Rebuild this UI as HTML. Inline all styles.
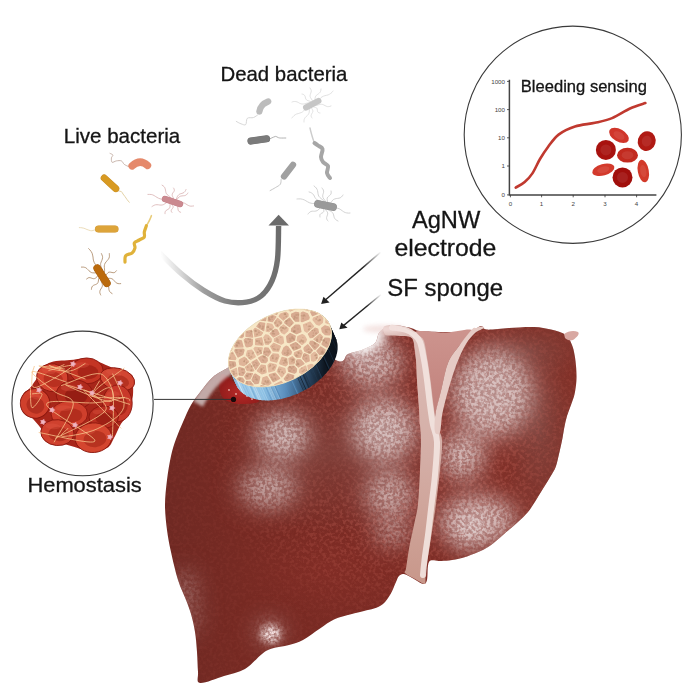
<!DOCTYPE html>
<html><head><meta charset="utf-8"><style>
html,body{margin:0;padding:0;background:#fff;width:700px;height:700px;overflow:hidden}
svg{display:block}
text{font-family:"Liberation Sans",sans-serif}
</style></head><body>
<svg width="700" height="700" viewBox="0 0 700 700">
<defs>
<linearGradient id="livg" x1="0" y1="0" x2="1" y2="0">
 <stop offset="0" stop-color="#6f2923"/>
 <stop offset="0.2" stop-color="#772a23"/>
 <stop offset="0.6" stop-color="#7c2b24"/>
 <stop offset="1" stop-color="#823027"/>
</linearGradient>
<radialGradient id="hl" cx="0.5" cy="0.5" r="0.5">
 <stop offset="0" stop-color="#ead6d6" stop-opacity="0.85"/>
 <stop offset="0.6" stop-color="#d8b4b2" stop-opacity="0.55"/>
 <stop offset="1" stop-color="#d8b4b2" stop-opacity="0"/>
</radialGradient>
<radialGradient id="gry" cx="0.5" cy="0.5" r="0.5">
 <stop offset="0" stop-color="#80443e" stop-opacity="0.9"/>
 <stop offset="1" stop-color="#80443e" stop-opacity="0"/>
</radialGradient>
<radialGradient id="dk" cx="0.5" cy="0.5" r="0.5">
 <stop offset="0" stop-color="#93322a" stop-opacity="0.9"/>
 <stop offset="1" stop-color="#93322a" stop-opacity="0"/>
</radialGradient>
<linearGradient id="gbg" x1="0" y1="0" x2="0" y2="1">
 <stop offset="0" stop-color="#cd948e"/>
 <stop offset="1" stop-color="#bf7f79"/>
</linearGradient>
<linearGradient id="edgeg" gradientUnits="userSpaceOnUse" x1="165" y1="0" x2="215" y2="0">
 <stop offset="0" stop-color="#000"/>
 <stop offset="1" stop-color="#fff"/>
</linearGradient>
<radialGradient id="spm" gradientUnits="userSpaceOnUse" cx="400" cy="430" r="200">
 <stop offset="0" stop-color="#fff"/>
 <stop offset="0.55" stop-color="#ccc"/>
 <stop offset="1" stop-color="#333"/>
</radialGradient>
<mask id="edgemask" maskUnits="userSpaceOnUse" x="0" y="0" width="700" height="700"><rect width="700" height="700" fill="url(#spm)"/></mask>
<filter id="blur4" filterUnits="userSpaceOnUse" x="0" y="0" width="700" height="700"><feGaussianBlur stdDeviation="5"/></filter>
<filter id="blur2" filterUnits="userSpaceOnUse" x="0" y="0" width="700" height="700"><feGaussianBlur stdDeviation="2.5"/></filter>
<filter id="speck3" filterUnits="userSpaceOnUse" x="0" y="0" width="700" height="700">
 <feGaussianBlur in="SourceGraphic" stdDeviation="3" result="sb"/>
 <feTurbulence type="fractalNoise" baseFrequency="0.35" numOctaves="2" seed="9" result="n"/>
 <feColorMatrix in="n" type="matrix" values="0 0 0 0 1  0 0 0 0 1  0 0 0 0 1  2.6 0 0 0 -0.7" result="na"/>
 <feComposite in="sb" in2="na" operator="arithmetic" k1="1" k2="0.2" k3="0" k4="0"/>
</filter>
<filter id="blur05" filterUnits="userSpaceOnUse" x="0" y="0" width="700" height="700"><feGaussianBlur stdDeviation="0.6"/></filter>
<filter id="blur1" x="-50%" y="-50%" width="200%" height="200%"><feGaussianBlur stdDeviation="1.5"/></filter>
<clipPath id="livclip"><path d="M229.0,367.0 C221.2,371.8 217.7,373.0 213.0,377.0 C208.3,381.0 204.7,386.3 201.0,391.0 C197.3,395.7 194.0,399.8 191.0,405.0 C188.0,410.2 185.5,416.3 183.0,422.0 C180.5,427.7 178.0,433.3 176.0,439.0 C174.0,444.7 172.5,449.2 171.0,456.0 C169.5,462.8 168.0,471.8 167.0,480.0 C166.0,488.2 165.0,496.7 165.0,505.0 C165.0,513.3 166.0,522.2 167.0,530.0 C168.0,537.8 169.2,543.7 171.0,552.0 C172.8,560.3 175.5,572.0 178.0,580.0 C180.5,588.0 183.8,594.3 186.0,600.0 C188.2,605.7 189.5,608.7 191.0,614.0 C192.5,619.3 194.0,625.7 195.0,632.0 C196.0,638.3 196.5,645.3 197.0,652.0 C197.5,658.7 197.5,666.8 198.0,672.0 C198.5,677.2 195.7,682.3 200.0,683.0 C204.3,683.7 216.5,678.3 224.0,676.0 C231.5,673.7 238.7,672.7 245.0,669.0 C251.3,665.3 257.5,657.4 262.0,654.0 C266.5,650.6 267.5,650.1 272.0,648.6 C276.5,647.1 283.8,646.4 289.0,645.0 C294.2,643.6 297.8,642.8 303.0,640.0 C308.2,637.2 314.8,631.9 320.0,628.5 C325.2,625.1 328.8,621.9 334.0,619.5 C339.2,617.1 346.0,615.7 351.0,614.3 C356.0,612.9 360.2,612.0 364.0,611.0 C367.8,610.0 370.8,609.7 374.0,608.5 C377.2,607.3 380.2,606.4 383.0,604.0 C385.8,601.6 388.4,597.7 390.6,594.0 C392.8,590.3 394.6,585.0 396.0,582.0 C397.4,579.0 397.7,577.3 399.0,576.0 C400.3,574.7 401.5,573.5 404.0,574.0 C406.5,574.5 410.8,577.3 414.0,579.0 C417.2,580.7 420.8,583.8 423.0,584.0 C425.2,584.2 426.0,583.7 427.0,580.0 C428.0,576.3 427.0,565.2 429.0,562.0 C431.0,558.8 435.7,561.2 439.0,561.0 C442.3,560.8 445.2,561.0 449.0,560.5 C452.8,560.0 458.2,559.0 462.0,558.0 C465.8,557.0 468.4,555.9 472.0,554.5 C475.6,553.1 479.8,551.7 483.4,549.8 C487.0,547.9 490.0,545.9 493.7,543.0 C497.4,540.1 501.7,536.1 505.7,532.6 C509.7,529.1 514.0,525.7 517.7,522.3 C521.4,518.9 525.1,515.4 528.0,512.0 C530.9,508.6 532.4,505.7 535.0,501.7 C537.6,497.7 540.6,492.6 543.4,488.0 C546.2,483.4 549.9,477.7 552.0,474.0 C554.1,470.3 554.7,469.8 556.0,466.0 C557.3,462.2 558.6,455.7 559.7,451.0 C560.8,446.3 561.7,442.0 562.5,438.0 C563.3,434.0 563.6,430.7 564.4,427.0 C565.1,423.3 565.9,419.7 567.0,416.0 C568.1,412.3 569.7,408.7 571.0,405.0 C572.3,401.3 573.7,398.0 574.6,394.0 C575.5,390.0 576.1,385.3 576.4,381.0 C576.7,376.7 576.5,372.3 576.2,368.0 C575.9,363.7 575.3,358.8 574.6,355.0 C573.9,351.2 573.4,348.3 572.0,345.0 C570.6,341.7 569.5,337.6 566.0,335.0 C562.5,332.4 556.3,330.9 551.0,329.6 C545.7,328.3 541.0,327.3 534.0,327.0 C527.0,326.7 516.8,327.6 509.0,328.0 C501.2,328.4 491.7,329.9 487.0,329.6 C482.3,329.3 483.8,325.8 481.0,326.0 C478.2,326.2 476.0,330.0 470.0,331.0 C464.0,332.0 453.3,332.0 445.0,332.0 C436.7,332.0 425.7,331.7 420.0,331.0 C414.3,330.3 415.2,329.0 411.0,328.0 C406.8,327.0 399.2,325.2 395.0,325.0 C390.8,324.8 388.7,325.7 386.0,327.0 C383.3,328.3 380.8,330.3 379.0,333.0 C377.2,335.7 377.7,340.2 375.0,343.0 C372.3,345.8 367.5,347.7 363.0,349.5 C358.5,351.3 352.2,352.1 348.0,354.0 C343.8,355.9 346.0,363.7 338.0,361.0 C330.0,358.3 313.0,340.2 300.0,338.0 C287.0,335.8 271.8,343.2 260.0,348.0 C248.2,352.8 236.8,362.2 229.0,367.0Z"/></clipPath>
<filter id="speck1" filterUnits="userSpaceOnUse" x="0" y="0" width="700" height="700">
 <feTurbulence type="fractalNoise" baseFrequency="0.3" numOctaves="2" seed="7" result="n"/>
 <feColorMatrix in="n" type="matrix" values="0 0 0 0 1  0 0 0 0 1  0 0 0 0 1  4.5 0 0 0 -2.0" result="na0"/>
 <feGaussianBlur in="na0" stdDeviation="0.45" result="na"/>
 <feComposite in="SourceGraphic" in2="na" operator="in"/>
</filter>
<filter id="soft" filterUnits="userSpaceOnUse" x="0" y="0" width="700" height="700">
 <feGaussianBlur stdDeviation="14"/>
</filter>
<filter id="speck2" filterUnits="userSpaceOnUse" x="0" y="0" width="700" height="700">
 <feGaussianBlur in="SourceGraphic" stdDeviation="9" result="sb"/>
 <feTurbulence type="fractalNoise" baseFrequency="0.32" numOctaves="2" seed="3" result="n"/>
 <feColorMatrix in="n" type="matrix" values="0 0 0 0 1  0 0 0 0 1  0 0 0 0 1  4.0 0 0 0 -1.55" result="na0"/>
 <feGaussianBlur in="na0" stdDeviation="0.45" result="na"/>
 <feComposite in="sb" in2="na" operator="arithmetic" k1="1" k2="0.15" k3="0" k4="0"/>
</filter>
<linearGradient id="arrowg" gradientUnits="userSpaceOnUse" x1="160" y1="252" x2="279" y2="225">
 <stop offset="0" stop-color="#ffffff"/>
 <stop offset="0.12" stop-color="#dadada"/>
 <stop offset="0.28" stop-color="#9e9e9e"/>
 <stop offset="0.5" stop-color="#7c7c7c"/>
 <stop offset="1" stop-color="#6b6b6b"/>
</linearGradient>
<linearGradient id="blk1" gradientUnits="userSpaceOnUse" x1="381" y1="252" x2="321" y2="304">
 <stop offset="0" stop-color="#222" stop-opacity="0"/>
 <stop offset="0.3" stop-color="#222" stop-opacity="1"/>
</linearGradient>
<linearGradient id="blk2" gradientUnits="userSpaceOnUse" x1="381" y1="294" x2="339" y2="329">
 <stop offset="0" stop-color="#222" stop-opacity="0"/>
 <stop offset="0.35" stop-color="#222" stop-opacity="1"/>
</linearGradient>
<linearGradient id="side" x1="0" y1="0" x2="1" y2="0">
 <stop offset="0" stop-color="#b9dcf2"/>
 <stop offset="0.35" stop-color="#8cc0e4"/>
 <stop offset="0.5" stop-color="#5b8fbe"/>
 <stop offset="0.65" stop-color="#2c4a68"/>
 <stop offset="0.78" stop-color="#0f1823"/>
 <stop offset="1" stop-color="#06090d"/>
</linearGradient>
<pattern id="foam" patternUnits="userSpaceOnUse" width="11" height="10" patternTransform="rotate(-26)">
 <rect width="11" height="10" fill="#f4dfb4"/>
 <ellipse cx="5.5" cy="5" rx="4.3" ry="3.8" fill="#d9a78a"/>
 <ellipse cx="5.5" cy="5" rx="2.6" ry="2.2" fill="#e0b394"/>
</pattern>
</defs>
<path d="M229.0,367.0 C221.2,371.8 217.7,373.0 213.0,377.0 C208.3,381.0 204.7,386.3 201.0,391.0 C197.3,395.7 194.0,399.8 191.0,405.0 C188.0,410.2 185.5,416.3 183.0,422.0 C180.5,427.7 178.0,433.3 176.0,439.0 C174.0,444.7 172.5,449.2 171.0,456.0 C169.5,462.8 168.0,471.8 167.0,480.0 C166.0,488.2 165.0,496.7 165.0,505.0 C165.0,513.3 166.0,522.2 167.0,530.0 C168.0,537.8 169.2,543.7 171.0,552.0 C172.8,560.3 175.5,572.0 178.0,580.0 C180.5,588.0 183.8,594.3 186.0,600.0 C188.2,605.7 189.5,608.7 191.0,614.0 C192.5,619.3 194.0,625.7 195.0,632.0 C196.0,638.3 196.5,645.3 197.0,652.0 C197.5,658.7 197.5,666.8 198.0,672.0 C198.5,677.2 195.7,682.3 200.0,683.0 C204.3,683.7 216.5,678.3 224.0,676.0 C231.5,673.7 238.7,672.7 245.0,669.0 C251.3,665.3 257.5,657.4 262.0,654.0 C266.5,650.6 267.5,650.1 272.0,648.6 C276.5,647.1 283.8,646.4 289.0,645.0 C294.2,643.6 297.8,642.8 303.0,640.0 C308.2,637.2 314.8,631.9 320.0,628.5 C325.2,625.1 328.8,621.9 334.0,619.5 C339.2,617.1 346.0,615.7 351.0,614.3 C356.0,612.9 360.2,612.0 364.0,611.0 C367.8,610.0 370.8,609.7 374.0,608.5 C377.2,607.3 380.2,606.4 383.0,604.0 C385.8,601.6 388.4,597.7 390.6,594.0 C392.8,590.3 394.6,585.0 396.0,582.0 C397.4,579.0 397.7,577.3 399.0,576.0 C400.3,574.7 401.5,573.5 404.0,574.0 C406.5,574.5 410.8,577.3 414.0,579.0 C417.2,580.7 420.8,583.8 423.0,584.0 C425.2,584.2 426.0,583.7 427.0,580.0 C428.0,576.3 427.0,565.2 429.0,562.0 C431.0,558.8 435.7,561.2 439.0,561.0 C442.3,560.8 445.2,561.0 449.0,560.5 C452.8,560.0 458.2,559.0 462.0,558.0 C465.8,557.0 468.4,555.9 472.0,554.5 C475.6,553.1 479.8,551.7 483.4,549.8 C487.0,547.9 490.0,545.9 493.7,543.0 C497.4,540.1 501.7,536.1 505.7,532.6 C509.7,529.1 514.0,525.7 517.7,522.3 C521.4,518.9 525.1,515.4 528.0,512.0 C530.9,508.6 532.4,505.7 535.0,501.7 C537.6,497.7 540.6,492.6 543.4,488.0 C546.2,483.4 549.9,477.7 552.0,474.0 C554.1,470.3 554.7,469.8 556.0,466.0 C557.3,462.2 558.6,455.7 559.7,451.0 C560.8,446.3 561.7,442.0 562.5,438.0 C563.3,434.0 563.6,430.7 564.4,427.0 C565.1,423.3 565.9,419.7 567.0,416.0 C568.1,412.3 569.7,408.7 571.0,405.0 C572.3,401.3 573.7,398.0 574.6,394.0 C575.5,390.0 576.1,385.3 576.4,381.0 C576.7,376.7 576.5,372.3 576.2,368.0 C575.9,363.7 575.3,358.8 574.6,355.0 C573.9,351.2 573.4,348.3 572.0,345.0 C570.6,341.7 569.5,337.6 566.0,335.0 C562.5,332.4 556.3,330.9 551.0,329.6 C545.7,328.3 541.0,327.3 534.0,327.0 C527.0,326.7 516.8,327.6 509.0,328.0 C501.2,328.4 491.7,329.9 487.0,329.6 C482.3,329.3 483.8,325.8 481.0,326.0 C478.2,326.2 476.0,330.0 470.0,331.0 C464.0,332.0 453.3,332.0 445.0,332.0 C436.7,332.0 425.7,331.7 420.0,331.0 C414.3,330.3 415.2,329.0 411.0,328.0 C406.8,327.0 399.2,325.2 395.0,325.0 C390.8,324.8 388.7,325.7 386.0,327.0 C383.3,328.3 380.8,330.3 379.0,333.0 C377.2,335.7 377.7,340.2 375.0,343.0 C372.3,345.8 367.5,347.7 363.0,349.5 C358.5,351.3 352.2,352.1 348.0,354.0 C343.8,355.9 346.0,363.7 338.0,361.0 C330.0,358.3 313.0,340.2 300.0,338.0 C287.0,335.8 271.8,343.2 260.0,348.0 C248.2,352.8 236.8,362.2 229.0,367.0Z" fill="url(#livg)"/>
<g clip-path="url(#livclip)">
<ellipse cx="540" cy="430" rx="40" ry="95" transform="rotate(0 540 430)" fill="url(#gry)" />
<ellipse cx="528" cy="350" rx="60" ry="32" transform="rotate(0 528 350)" fill="url(#gry)" opacity="1"/>
<ellipse cx="480" cy="520" rx="40" ry="30" transform="rotate(0 480 520)" fill="url(#dk)" opacity="0.4"/>
<ellipse cx="330" cy="570" rx="90" ry="50" transform="rotate(0 330 570)" fill="url(#dk)" opacity="0.35"/>
<path d="M229.0,367.0 C221.2,371.8 217.7,373.0 213.0,377.0 C208.3,381.0 204.7,386.3 201.0,391.0 C197.3,395.7 194.0,399.8 191.0,405.0 C188.0,410.2 185.5,416.3 183.0,422.0 C180.5,427.7 178.0,433.3 176.0,439.0 C174.0,444.7 172.5,449.2 171.0,456.0 C169.5,462.8 168.0,471.8 167.0,480.0 C166.0,488.2 165.0,496.7 165.0,505.0 C165.0,513.3 166.0,522.2 167.0,530.0 C168.0,537.8 169.2,543.7 171.0,552.0 C172.8,560.3 175.5,572.0 178.0,580.0 C180.5,588.0 183.8,594.3 186.0,600.0 C188.2,605.7 189.5,608.7 191.0,614.0 C192.5,619.3 194.0,625.7 195.0,632.0 C196.0,638.3 196.5,645.3 197.0,652.0 C197.5,658.7 197.5,666.8 198.0,672.0 C198.5,677.2 195.7,682.3 200.0,683.0 C204.3,683.7 216.5,678.3 224.0,676.0 C231.5,673.7 238.7,672.7 245.0,669.0 C251.3,665.3 257.5,657.4 262.0,654.0 C266.5,650.6 267.5,650.1 272.0,648.6 C276.5,647.1 283.8,646.4 289.0,645.0 C294.2,643.6 297.8,642.8 303.0,640.0 C308.2,637.2 314.8,631.9 320.0,628.5 C325.2,625.1 328.8,621.9 334.0,619.5 C339.2,617.1 346.0,615.7 351.0,614.3 C356.0,612.9 360.2,612.0 364.0,611.0 C367.8,610.0 370.8,609.7 374.0,608.5 C377.2,607.3 380.2,606.4 383.0,604.0 C385.8,601.6 388.4,597.7 390.6,594.0 C392.8,590.3 394.6,585.0 396.0,582.0 C397.4,579.0 397.7,577.3 399.0,576.0 C400.3,574.7 401.5,573.5 404.0,574.0 C406.5,574.5 410.8,577.3 414.0,579.0 C417.2,580.7 420.8,583.8 423.0,584.0 C425.2,584.2 426.0,583.7 427.0,580.0 C428.0,576.3 427.0,565.2 429.0,562.0 C431.0,558.8 435.7,561.2 439.0,561.0 C442.3,560.8 445.2,561.0 449.0,560.5 C452.8,560.0 458.2,559.0 462.0,558.0 C465.8,557.0 468.4,555.9 472.0,554.5 C475.6,553.1 479.8,551.7 483.4,549.8 C487.0,547.9 490.0,545.9 493.7,543.0 C497.4,540.1 501.7,536.1 505.7,532.6 C509.7,529.1 514.0,525.7 517.7,522.3 C521.4,518.9 525.1,515.4 528.0,512.0 C530.9,508.6 532.4,505.7 535.0,501.7 C537.6,497.7 540.6,492.6 543.4,488.0 C546.2,483.4 549.9,477.7 552.0,474.0 C554.1,470.3 554.7,469.8 556.0,466.0 C557.3,462.2 558.6,455.7 559.7,451.0 C560.8,446.3 561.7,442.0 562.5,438.0 C563.3,434.0 563.6,430.7 564.4,427.0 C565.1,423.3 565.9,419.7 567.0,416.0 C568.1,412.3 569.7,408.7 571.0,405.0 C572.3,401.3 573.7,398.0 574.6,394.0 C575.5,390.0 576.1,385.3 576.4,381.0 C576.7,376.7 576.5,372.3 576.2,368.0 C575.9,363.7 575.3,358.8 574.6,355.0 C573.9,351.2 573.4,348.3 572.0,345.0 C570.6,341.7 569.5,337.6 566.0,335.0 C562.5,332.4 556.3,330.9 551.0,329.6 C545.7,328.3 541.0,327.3 534.0,327.0 C527.0,326.7 516.8,327.6 509.0,328.0 C501.2,328.4 491.7,329.9 487.0,329.6 C482.3,329.3 483.8,325.8 481.0,326.0 C478.2,326.2 476.0,330.0 470.0,331.0 C464.0,332.0 453.3,332.0 445.0,332.0 C436.7,332.0 425.7,331.7 420.0,331.0 C414.3,330.3 415.2,329.0 411.0,328.0 C406.8,327.0 399.2,325.2 395.0,325.0 C390.8,324.8 388.7,325.7 386.0,327.0 C383.3,328.3 380.8,330.3 379.0,333.0 C377.2,335.7 377.7,340.2 375.0,343.0 C372.3,345.8 367.5,347.7 363.0,349.5 C358.5,351.3 352.2,352.1 348.0,354.0 C343.8,355.9 346.0,363.7 338.0,361.0 C330.0,358.3 313.0,340.2 300.0,338.0 C287.0,335.8 271.8,343.2 260.0,348.0 C248.2,352.8 236.8,362.2 229.0,367.0Z" fill="#b85a50" filter="url(#speck1)" opacity="0.5" mask="url(#edgemask)"/>
<ellipse cx="330" cy="455" rx="110" ry="80" transform="rotate(0 330 455)" fill="url(#gry)" opacity="0.8"/>
<g filter="url(#soft)">
<ellipse cx="283" cy="436" rx="26.1" ry="22.5" transform="rotate(0 283 436)" fill="#d0bebe" opacity="0.60"/>
<ellipse cx="268" cy="488" rx="28.8" ry="20.7" transform="rotate(0 268 488)" fill="#d0bebe" opacity="0.45"/>
<ellipse cx="384" cy="430" rx="32.4" ry="32.4" transform="rotate(0 384 430)" fill="#d0bebe" opacity="0.60"/>
<ellipse cx="390" cy="494" rx="25.2" ry="22.5" transform="rotate(0 390 494)" fill="#d0bebe" opacity="0.48"/>
<ellipse cx="393" cy="532" rx="19.8" ry="14.4" transform="rotate(0 393 532)" fill="#d0bebe" opacity="0.36"/>
<ellipse cx="372" cy="362" rx="30.6" ry="24.3" transform="rotate(0 372 362)" fill="#d0bebe" opacity="0.57"/>
<ellipse cx="492" cy="393" rx="41.4" ry="45.0" transform="rotate(0 492 393)" fill="#d0bebe" opacity="0.60"/>
<ellipse cx="462" cy="456" rx="21.6" ry="23.400000000000002" transform="rotate(0 462 456)" fill="#d0bebe" opacity="0.60"/>
<ellipse cx="478" cy="520" rx="39.6" ry="23.400000000000002" transform="rotate(0 478 520)" fill="#d0bebe" opacity="0.60"/>
<ellipse cx="468" cy="536" rx="18.0" ry="11.700000000000001" transform="rotate(0 468 536)" fill="#d0bebe" opacity="0.60"/>
<ellipse cx="270" cy="632" rx="10.8" ry="9.0" transform="rotate(0 270 632)" fill="#d0bebe" opacity="0.60"/>
<ellipse cx="185" cy="588" rx="9.0" ry="18.0" transform="rotate(0 185 588)" fill="#d0bebe" opacity="0.30"/>
<ellipse cx="190" cy="618" rx="6.3" ry="19.8" transform="rotate(0 190 618)" fill="#d0bebe" opacity="0.30"/>
<ellipse cx="352" cy="340" rx="21.6" ry="11.700000000000001" transform="rotate(0 352 340)" fill="#d0bebe" opacity="0.60"/>
</g>
<g filter="url(#speck2)">
<ellipse cx="283" cy="436" rx="23.200000000000003" ry="20.0" transform="rotate(0 283 436)" fill="#f2eaea" opacity="0.50"/>
<ellipse cx="268" cy="488" rx="25.6" ry="18.400000000000002" transform="rotate(0 268 488)" fill="#f2eaea" opacity="0.38"/>
<ellipse cx="384" cy="430" rx="28.8" ry="28.8" transform="rotate(0 384 430)" fill="#f2eaea" opacity="0.50"/>
<ellipse cx="390" cy="494" rx="22.400000000000002" ry="20.0" transform="rotate(0 390 494)" fill="#f2eaea" opacity="0.40"/>
<ellipse cx="393" cy="532" rx="17.6" ry="12.8" transform="rotate(0 393 532)" fill="#f2eaea" opacity="0.30"/>
<ellipse cx="372" cy="362" rx="27.200000000000003" ry="21.6" transform="rotate(0 372 362)" fill="#f2eaea" opacity="0.47"/>
<ellipse cx="492" cy="393" rx="36.800000000000004" ry="40.0" transform="rotate(0 492 393)" fill="#f2eaea" opacity="0.50"/>
<ellipse cx="462" cy="456" rx="19.200000000000003" ry="20.8" transform="rotate(0 462 456)" fill="#f2eaea" opacity="0.50"/>
<ellipse cx="478" cy="520" rx="35.2" ry="20.8" transform="rotate(0 478 520)" fill="#f2eaea" opacity="0.50"/>
<ellipse cx="468" cy="536" rx="16.0" ry="10.4" transform="rotate(0 468 536)" fill="#f2eaea" opacity="0.50"/>
<ellipse cx="270" cy="632" rx="9.600000000000001" ry="8.0" transform="rotate(0 270 632)" fill="#f2eaea" opacity="0.50"/>
<ellipse cx="185" cy="588" rx="8.0" ry="16.0" transform="rotate(0 185 588)" fill="#f2eaea" opacity="0.25"/>
<ellipse cx="190" cy="618" rx="5.6000000000000005" ry="17.6" transform="rotate(0 190 618)" fill="#f2eaea" opacity="0.25"/>
<ellipse cx="352" cy="340" rx="19.200000000000003" ry="10.4" transform="rotate(0 352 340)" fill="#f2eaea" opacity="0.50"/>
</g>
<ellipse cx="360" cy="336" rx="26" ry="14" fill="#fff" filter="url(#blur4)" opacity="0.9"/>
<ellipse cx="271" cy="634" rx="10" ry="9" fill="#f0dede" filter="url(#speck3)" opacity="0.9"/>
</g>
<g filter="url(#blur05)">
<path d="M416.0,331.5 C421.2,329.9 435.7,332.8 445.0,332.5 C454.3,332.2 469.7,327.8 472.0,330.0 C474.3,332.2 463.0,340.5 459.0,346.0 C455.0,351.5 451.0,355.5 448.0,363.0 C445.0,370.5 443.1,382.5 441.0,391.0 C438.9,399.5 436.6,409.2 435.4,414.0 C434.2,418.8 436.6,418.2 434.0,420.0 C431.4,421.8 422.5,427.0 420.0,425.0 C417.5,423.0 419.5,415.5 419.0,408.0 C418.5,400.5 417.5,388.0 417.0,380.0 C416.5,372.0 416.6,366.3 416.0,360.0 C415.4,353.7 413.7,346.8 413.7,342.0 C413.7,337.2 410.8,333.1 416.0,331.5Z" fill="url(#gbg)"/>
<linearGradient id="ligg" gradientUnits="userSpaceOnUse" x1="0" y1="330" x2="0" y2="585"><stop offset="0" stop-color="#dcbcb6"/><stop offset="0.5" stop-color="#d4aea6"/><stop offset="1" stop-color="#c8978a"/></linearGradient>
<path d="M384.0,326.5 C385.7,325.0 391.5,325.2 395.0,325.5 C398.5,325.8 402.0,326.9 405.0,328.0 C408.0,329.1 410.7,330.7 413.0,332.0 C415.3,333.3 417.2,334.5 419.0,336.0 C420.8,337.5 422.6,337.0 424.0,341.0 C425.4,345.0 426.4,353.5 427.5,360.0 C428.6,366.5 429.5,372.5 430.5,380.0 C431.5,387.5 432.5,397.5 433.5,405.0 C434.5,412.5 435.1,419.2 436.5,425.0 C437.9,430.8 441.4,432.5 442.0,440.0 C442.6,447.5 441.0,459.3 440.0,470.0 C439.0,480.7 437.2,494.8 436.0,504.0 C434.8,513.2 434.1,517.8 433.0,525.0 C431.9,532.2 430.6,540.8 429.6,547.0 C428.6,553.2 427.7,558.2 427.0,562.0 C426.3,565.8 425.6,567.0 425.4,570.0 C425.1,573.0 425.7,577.7 425.5,580.0 C425.3,582.3 426.1,584.2 424.3,584.0 C422.6,583.8 418.2,580.8 415.0,579.0 C411.8,577.2 406.5,574.7 405.0,573.0 C403.5,571.3 405.3,572.9 406.0,568.6 C406.7,564.3 408.0,554.3 409.3,547.0 C410.6,539.7 412.6,532.2 414.0,525.0 C415.4,517.8 417.0,513.2 418.0,504.0 C419.0,494.8 419.5,480.7 420.0,470.0 C420.5,459.3 421.0,447.5 421.0,440.0 C421.0,432.5 420.3,430.3 420.0,425.0 C419.7,419.7 419.5,415.5 419.0,408.0 C418.5,400.5 417.5,388.0 417.0,380.0 C416.5,372.0 416.6,366.3 416.0,360.0 C415.4,353.7 414.7,345.8 413.7,342.0 C412.7,338.2 411.8,338.0 410.0,337.0 C408.2,336.0 406.0,336.2 403.0,336.0 C400.0,335.8 395.0,335.8 392.0,335.5 C389.0,335.2 386.3,336.0 385.0,334.5 C383.7,333.0 382.3,328.0 384.0,326.5Z" fill="url(#ligg)"/>
<path d="M392.0,327.5 C394.3,327.9 402.3,328.8 406.0,330.0 C409.7,331.2 411.7,332.5 414.0,334.5 C416.3,336.5 418.3,337.8 420.0,342.0 C421.7,346.2 422.8,353.7 424.0,360.0 C425.2,366.3 426.0,372.5 427.0,380.0 C428.0,387.5 429.0,397.5 430.0,405.0 C431.0,412.5 431.8,418.8 433.0,425.0 C434.2,431.2 436.7,433.7 437.0,442.0 C437.3,450.3 435.9,464.5 435.0,475.0 C434.1,485.5 432.7,495.0 431.5,505.0 C430.3,515.0 429.2,525.8 428.0,535.0 C426.8,544.2 425.3,553.3 424.5,560.0 C423.7,566.7 423.2,572.5 423.0,575.0" stroke="#f3e4e0" stroke-width="6" fill="none" stroke-linecap="round" opacity="0.9"/>
<path d="M472.0,329.5 C474.9,326.5 474.9,328.5 476.4,328.0 C477.9,327.5 479.7,326.5 481.0,326.5 C482.3,326.5 485.0,326.9 484.0,328.0 C483.0,329.1 478.0,330.3 475.0,333.0 C472.0,335.7 469.0,339.0 466.0,344.0 C463.0,349.0 460.0,355.2 457.0,363.0 C454.0,370.8 450.4,382.5 448.0,391.0 C445.6,399.5 443.6,407.2 442.3,414.0 C441.0,420.8 441.2,429.0 440.0,432.0 C438.8,435.0 435.8,435.0 435.0,432.0 C434.2,429.0 434.4,420.8 435.4,414.0 C436.4,407.2 438.9,399.5 441.0,391.0 C443.1,382.5 445.0,370.5 448.0,363.0 C451.0,355.5 455.0,351.6 459.0,346.0 C463.0,340.4 469.1,332.5 472.0,329.5Z" fill="#e6cbc5"/>
</g>
<ellipse cx="358" cy="343" rx="16" ry="9" fill="#fff" filter="url(#blur4)" opacity="0.8"/>
<ellipse cx="384" cy="329" rx="21" ry="3.8" fill="#f2dedc" filter="url(#blur2)" opacity="0.9"/>
<path d="M564,334 C568,331 574,330 578,332 C580,334 577,337 573,340 C570,341 567,340 565,338 Z" fill="#d8a8a2"/>
<radialGradient id="wg" cx="0.55" cy="0.6" r="0.6"><stop offset="0" stop-color="#b82a28"/><stop offset="1" stop-color="#8e1c1a"/></radialGradient>
<path d="M221.3,374.4 C222.9,372.5 226.5,375.8 229.3,377.9 C232.2,380.0 235.6,384.1 238.4,387.0 C241.2,389.9 243.0,392.7 246.4,395.0 C249.8,397.3 258.1,399.3 259.0,400.7 C259.9,402.1 256.0,403.0 252.0,403.5 C248.0,404.0 239.7,404.4 235.0,403.5 C230.3,402.6 226.2,400.8 223.6,398.4 C221.0,396.0 219.9,393.0 219.5,389.0 C219.1,385.0 219.7,376.2 221.3,374.4Z" fill="url(#wg)"/>
<g clip-path="url(#livclip)">
<path d="M232,367.5 C222,373 209,384 198,404" stroke="#dcd4d4" stroke-width="11" fill="none" opacity="0.75" filter="url(#blur1)"/>
</g>
<circle cx="236" cy="394" r="0.9" fill="#f4c8c0" opacity="0.85"/>
<circle cx="247" cy="396" r="0.9" fill="#f4c8c0" opacity="0.85"/>
<circle cx="241" cy="389" r="0.9" fill="#f4c8c0" opacity="0.85"/>
<circle cx="252" cy="399" r="0.9" fill="#f4c8c0" opacity="0.85"/>
<circle cx="229" cy="390" r="0.9" fill="#f4c8c0" opacity="0.85"/>
<defs><clipPath id="topclip"><ellipse cx="280" cy="348" rx="55" ry="34" transform="rotate(-26 280 348)"/></clipPath>
<clipPath id="sideclip"><path d="M336.7,340.7 L337.0,341.9 L337.3,343.1 L337.5,344.3 L337.6,345.5 L337.6,346.7 L337.6,348.0 L337.6,349.3 L337.4,350.6 L337.2,351.9 L337.0,353.2 L336.6,354.6 L336.3,355.9 L335.8,357.2 L335.3,358.6 L334.8,360.0 L334.1,361.3 L333.4,362.7 L332.7,364.0 L331.9,365.4 L331.1,366.7 L330.2,368.1 L329.2,369.4 L328.2,370.7 L327.1,372.1 L326.0,373.4 L324.8,374.6 L323.6,375.9 L322.4,377.2 L321.1,378.4 L319.7,379.6 L318.3,380.8 L316.9,382.0 L315.5,383.1 L314.0,384.2 L312.4,385.3 L310.9,386.4 L309.3,387.4 L307.6,388.4 L306.0,389.4 L304.3,390.3 L302.6,391.2 L300.9,392.1 L299.2,392.9 L297.4,393.7 L295.7,394.4 L293.9,395.1 L292.1,395.8 L290.3,396.4 L288.5,397.0 L286.7,397.5 L284.9,398.0 L283.1,398.5 L281.3,398.9 L279.5,399.2 L277.7,399.5 L276.0,399.8 L274.2,400.0 L272.4,400.2 L270.7,400.3 L269.0,400.4 L267.3,400.4 L265.6,400.4 L264.0,400.3 L262.4,400.2 L260.8,400.1 L259.2,399.9 L257.7,399.6 L256.2,399.3 L254.8,399.0 L253.4,398.6 L252.0,398.1 L250.6,397.7 L249.3,397.1 L248.1,396.6 L246.9,396.0 L245.7,395.3 L244.6,394.6 L243.6,393.9 L242.6,393.1 L241.6,392.3 L240.7,391.4 L239.9,390.6 L239.1,389.6 L238.4,388.7 L237.7,387.7 L237.1,386.7 L236.6,385.6 L236.1,384.5 L230.1,371.0 L229.6,369.9 L229.3,368.8 L229.0,367.6 L228.7,366.4 L228.5,365.2 L228.4,364.0 L228.4,362.8 L228.4,361.5 L228.4,360.2 L228.6,358.9 L228.8,357.6 L229.0,356.3 L229.4,354.9 L229.7,353.6 L230.2,352.3 L230.7,350.9 L231.2,349.5 L231.9,348.2 L232.6,346.8 L233.3,345.5 L234.1,344.1 L234.9,342.8 L235.8,341.4 L236.8,340.1 L237.8,338.8 L238.9,337.4 L240.0,336.1 L241.2,334.9 L242.4,333.6 L243.6,332.3 L244.9,331.1 L246.3,329.9 L247.7,328.7 L249.1,327.5 L250.5,326.4 L252.0,325.3 L253.6,324.2 L255.1,323.1 L256.7,322.1 L258.4,321.1 L260.0,320.1 L261.7,319.2 L263.4,318.3 L265.1,317.4 L266.8,316.6 L268.6,315.8 L270.3,315.1 L272.1,314.4 L273.9,313.7 L275.7,313.1 L277.5,312.5 L279.3,312.0 L281.1,311.5 L282.9,311.0 L284.7,310.6 L286.5,310.3 L288.3,310.0 L290.0,309.7 L291.8,309.5 L293.6,309.3 L295.3,309.2 L297.0,309.1 L298.7,309.1 L300.4,309.1 L302.0,309.2 L303.6,309.3 L305.2,309.4 L306.8,309.6 L308.3,309.9 L309.8,310.2 L311.2,310.5 L312.6,310.9 L314.0,311.4 L315.4,311.8 L316.7,312.4 L317.9,312.9 L319.1,313.5 L320.3,314.2 L321.4,314.9 L322.4,315.6 L323.4,316.4 L324.4,317.2 L325.3,318.1 L326.1,318.9 L326.9,319.9 L327.6,320.8 L328.3,321.8 L328.9,322.8 L329.4,323.9 L329.9,325.0 L335.9,338.5 L336.4,339.6Z"/></clipPath></defs>
<g clip-path="url(#sideclip)">
<rect x="215" y="294" width="140" height="118" fill="url(#side)"/>
<line x1="321.1" y1="314.7" x2="327.7" y2="329.6" stroke="#080c12" stroke-width="0.46" opacity="0.79"/>
<line x1="232.1" y1="347.7" x2="238.7" y2="362.6" stroke="#b5d8ef" stroke-width="1.04" opacity="0.49"/>
<line x1="315.8" y1="364.2" x2="322.4" y2="379.0" stroke="#2d4a66" stroke-width="1.12" opacity="0.57"/>
<line x1="233.2" y1="376.2" x2="239.8" y2="391.1" stroke="#e6f2fa" stroke-width="1.03" opacity="0.52"/>
<line x1="327.7" y1="321.0" x2="334.3" y2="335.8" stroke="#080c12" stroke-width="1.14" opacity="0.78"/>
<line x1="315.1" y1="364.9" x2="321.7" y2="379.7" stroke="#1f3348" stroke-width="0.96" opacity="0.60"/>
<line x1="321.0" y1="314.7" x2="327.6" y2="329.5" stroke="#0d1520" stroke-width="0.80" opacity="0.37"/>
<line x1="231.2" y1="373.3" x2="237.8" y2="388.2" stroke="#b5d8ef" stroke-width="1.17" opacity="0.55"/>
<line x1="263.0" y1="386.9" x2="269.6" y2="401.7" stroke="#7fb3da" stroke-width="0.91" opacity="0.56"/>
<line x1="320.3" y1="314.2" x2="326.9" y2="329.1" stroke="#0d1520" stroke-width="0.61" opacity="0.59"/>
<line x1="318.3" y1="313.1" x2="324.9" y2="328.0" stroke="#0d1520" stroke-width="0.78" opacity="0.64"/>
<line x1="304.8" y1="372.9" x2="311.4" y2="387.8" stroke="#1f3348" stroke-width="1.02" opacity="0.65"/>
<line x1="311.9" y1="367.7" x2="318.5" y2="382.6" stroke="#2d4a66" stroke-width="0.54" opacity="0.48"/>
<line x1="303.5" y1="373.7" x2="310.1" y2="388.6" stroke="#1f3348" stroke-width="1.11" opacity="0.78"/>
<line x1="253.5" y1="386.4" x2="260.1" y2="401.3" stroke="#b5d8ef" stroke-width="1.13" opacity="0.32"/>
<line x1="228.5" y1="364.4" x2="235.1" y2="379.2" stroke="#4a7fae" stroke-width="0.62" opacity="0.71"/>
<line x1="255.3" y1="386.6" x2="261.9" y2="401.5" stroke="#7fb3da" stroke-width="0.74" opacity="0.79"/>
<line x1="230.6" y1="372.2" x2="237.2" y2="387.0" stroke="#5d93c2" stroke-width="1.12" opacity="0.78"/>
<line x1="250.1" y1="385.8" x2="256.7" y2="400.6" stroke="#5d93c2" stroke-width="0.49" opacity="0.70"/>
<line x1="250.8" y1="385.9" x2="257.4" y2="400.8" stroke="#7fb3da" stroke-width="1.13" opacity="0.74"/>
<line x1="299.9" y1="375.9" x2="306.5" y2="390.7" stroke="#080c12" stroke-width="0.90" opacity="0.69"/>
<line x1="298.7" y1="376.6" x2="305.3" y2="391.4" stroke="#0d1520" stroke-width="0.46" opacity="0.55"/>
<line x1="250.6" y1="326.4" x2="257.2" y2="341.2" stroke="#5d93c2" stroke-width="0.47" opacity="0.65"/>
<line x1="237.9" y1="338.7" x2="244.5" y2="353.5" stroke="#b5d8ef" stroke-width="0.80" opacity="0.49"/>
<line x1="267.5" y1="386.6" x2="274.1" y2="401.4" stroke="#b5d8ef" stroke-width="0.89" opacity="0.58"/>
<line x1="331.3" y1="337.6" x2="337.9" y2="352.5" stroke="#2d4a66" stroke-width="0.46" opacity="0.41"/>
<line x1="253.2" y1="386.4" x2="259.8" y2="401.2" stroke="#e6f2fa" stroke-width="0.93" opacity="0.36"/>
<line x1="231.9" y1="374.5" x2="238.5" y2="389.3" stroke="#5d93c2" stroke-width="0.88" opacity="0.55"/>
<line x1="319.4" y1="313.7" x2="326.0" y2="328.6" stroke="#2d4a66" stroke-width="0.52" opacity="0.35"/>
<line x1="248.9" y1="327.6" x2="255.5" y2="342.5" stroke="#b5d8ef" stroke-width="1.00" opacity="0.46"/>
<line x1="229.7" y1="370.0" x2="236.3" y2="384.9" stroke="#b5d8ef" stroke-width="0.55" opacity="0.67"/>
<line x1="283.8" y1="383.1" x2="290.4" y2="397.9" stroke="#5d93c2" stroke-width="0.73" opacity="0.45"/>
<line x1="313.0" y1="311.0" x2="319.6" y2="325.9" stroke="#1f3348" stroke-width="0.90" opacity="0.71"/>
<line x1="330.1" y1="325.5" x2="336.7" y2="340.3" stroke="#080c12" stroke-width="0.80" opacity="0.44"/>
<line x1="310.8" y1="310.4" x2="317.4" y2="325.3" stroke="#2d4a66" stroke-width="1.08" opacity="0.58"/>
<line x1="265.7" y1="386.8" x2="272.3" y2="401.6" stroke="#5d93c2" stroke-width="0.88" opacity="0.67"/>
<line x1="228.8" y1="367.0" x2="235.4" y2="381.8" stroke="#b5d8ef" stroke-width="0.49" opacity="0.54"/>
<line x1="310.4" y1="310.3" x2="317.0" y2="325.2" stroke="#2d4a66" stroke-width="1.07" opacity="0.78"/>
<line x1="261.8" y1="386.9" x2="268.4" y2="401.8" stroke="#cfe6f5" stroke-width="0.45" opacity="0.69"/>
<line x1="277.7" y1="312.5" x2="284.3" y2="327.3" stroke="#b5d8ef" stroke-width="1.15" opacity="0.34"/>
<line x1="297.5" y1="377.2" x2="304.1" y2="392.1" stroke="#080c12" stroke-width="0.83" opacity="0.42"/>
<line x1="291.2" y1="309.5" x2="297.8" y2="324.4" stroke="#e6f2fa" stroke-width="0.96" opacity="0.79"/>
<line x1="292.2" y1="309.4" x2="298.8" y2="324.3" stroke="#4a7fae" stroke-width="0.71" opacity="0.68"/>
<line x1="318.3" y1="313.2" x2="324.9" y2="328.0" stroke="#1f3348" stroke-width="0.70" opacity="0.69"/>
<line x1="276.0" y1="313.0" x2="282.6" y2="327.9" stroke="#cfe6f5" stroke-width="0.95" opacity="0.76"/>
<line x1="270.1" y1="386.3" x2="276.7" y2="401.1" stroke="#cfe6f5" stroke-width="1.03" opacity="0.62"/>
<line x1="235.0" y1="342.6" x2="241.6" y2="357.5" stroke="#4a7fae" stroke-width="0.66" opacity="0.51"/>
<line x1="256.7" y1="386.8" x2="263.3" y2="401.6" stroke="#e6f2fa" stroke-width="0.78" opacity="0.44"/>
<line x1="267.4" y1="316.4" x2="274.0" y2="331.2" stroke="#7fb3da" stroke-width="1.03" opacity="0.62"/>
<line x1="325.8" y1="318.6" x2="332.4" y2="333.5" stroke="#080c12" stroke-width="0.47" opacity="0.63"/>
<line x1="234.6" y1="343.3" x2="241.2" y2="358.1" stroke="#4a7fae" stroke-width="1.20" opacity="0.64"/>
<line x1="231.8" y1="374.2" x2="238.4" y2="389.1" stroke="#cfe6f5" stroke-width="0.42" opacity="0.77"/>
<line x1="325.0" y1="317.8" x2="331.6" y2="332.7" stroke="#0d1520" stroke-width="0.64" opacity="0.72"/>
<line x1="250.5" y1="385.9" x2="257.1" y2="400.7" stroke="#7fb3da" stroke-width="0.43" opacity="0.37"/>
<line x1="265.8" y1="317.1" x2="272.4" y2="332.0" stroke="#4a7fae" stroke-width="0.90" opacity="0.36"/>
<line x1="292.5" y1="379.7" x2="299.1" y2="394.5" stroke="#4a7fae" stroke-width="0.51" opacity="0.75"/>
<line x1="230.1" y1="352.5" x2="236.7" y2="367.4" stroke="#5d93c2" stroke-width="0.94" opacity="0.57"/>
<line x1="284.5" y1="310.7" x2="291.1" y2="325.5" stroke="#e6f2fa" stroke-width="1.06" opacity="0.65"/>
<line x1="302.8" y1="374.2" x2="309.4" y2="389.1" stroke="#1f3348" stroke-width="1.13" opacity="0.55"/>
<line x1="250.2" y1="326.7" x2="256.8" y2="341.5" stroke="#e6f2fa" stroke-width="1.16" opacity="0.67"/>
<line x1="328.1" y1="347.9" x2="334.7" y2="362.7" stroke="#080c12" stroke-width="1.06" opacity="0.45"/>
<line x1="302.8" y1="374.2" x2="309.4" y2="389.1" stroke="#080c12" stroke-width="0.51" opacity="0.53"/>
<line x1="282.8" y1="311.1" x2="289.4" y2="325.9" stroke="#4a7fae" stroke-width="1.04" opacity="0.54"/>
<line x1="256.6" y1="386.8" x2="263.2" y2="401.6" stroke="#7fb3da" stroke-width="0.81" opacity="0.74"/>
<line x1="321.1" y1="314.7" x2="327.7" y2="329.6" stroke="#2d4a66" stroke-width="0.97" opacity="0.80"/>
<line x1="274.8" y1="385.5" x2="281.4" y2="400.3" stroke="#4a7fae" stroke-width="1.15" opacity="0.57"/>
<line x1="317.2" y1="312.6" x2="323.8" y2="327.4" stroke="#1f3348" stroke-width="0.60" opacity="0.43"/>
<line x1="234.6" y1="343.3" x2="241.2" y2="358.2" stroke="#7fb3da" stroke-width="0.96" opacity="0.40"/>
<line x1="272.5" y1="385.9" x2="279.1" y2="400.8" stroke="#7fb3da" stroke-width="1.14" opacity="0.42"/>
<line x1="268.8" y1="386.4" x2="275.4" y2="401.3" stroke="#e6f2fa" stroke-width="0.53" opacity="0.32"/>
<line x1="286.3" y1="310.3" x2="292.9" y2="325.2" stroke="#7fb3da" stroke-width="1.20" opacity="0.43"/>
<line x1="244.6" y1="384.1" x2="251.2" y2="399.0" stroke="#7fb3da" stroke-width="0.84" opacity="0.62"/>
<line x1="234.4" y1="377.6" x2="241.0" y2="392.5" stroke="#5d93c2" stroke-width="0.70" opacity="0.32"/>
<line x1="237.3" y1="380.2" x2="243.9" y2="395.0" stroke="#e6f2fa" stroke-width="0.98" opacity="0.64"/>
<line x1="329.7" y1="324.5" x2="336.3" y2="339.4" stroke="#080c12" stroke-width="0.67" opacity="0.42"/>
<line x1="270.7" y1="314.9" x2="277.3" y2="329.8" stroke="#cfe6f5" stroke-width="1.14" opacity="0.67"/>
<line x1="248.3" y1="385.3" x2="254.9" y2="400.2" stroke="#cfe6f5" stroke-width="1.12" opacity="0.37"/>
<line x1="310.8" y1="310.4" x2="317.4" y2="325.3" stroke="#1f3348" stroke-width="0.99" opacity="0.78"/>
<line x1="306.4" y1="309.6" x2="313.0" y2="324.4" stroke="#1f3348" stroke-width="0.66" opacity="0.72"/>
<line x1="267.4" y1="316.4" x2="274.0" y2="331.2" stroke="#b5d8ef" stroke-width="0.89" opacity="0.68"/>
<line x1="293.7" y1="309.3" x2="300.3" y2="324.1" stroke="#080c12" stroke-width="0.44" opacity="0.42"/>
<line x1="270.6" y1="386.2" x2="277.2" y2="401.1" stroke="#4a7fae" stroke-width="1.12" opacity="0.40"/>
<line x1="228.6" y1="365.3" x2="235.2" y2="380.1" stroke="#4a7fae" stroke-width="1.03" opacity="0.76"/>
<line x1="301.9" y1="309.2" x2="308.5" y2="324.0" stroke="#2d4a66" stroke-width="1.01" opacity="0.58"/>
<line x1="323.5" y1="316.4" x2="330.1" y2="331.3" stroke="#080c12" stroke-width="1.16" opacity="0.65"/>
<line x1="297.6" y1="377.2" x2="304.2" y2="392.1" stroke="#1f3348" stroke-width="0.78" opacity="0.34"/>
<line x1="308.7" y1="310.0" x2="315.3" y2="324.8" stroke="#080c12" stroke-width="1.19" opacity="0.40"/>
<line x1="234.0" y1="377.2" x2="240.6" y2="392.0" stroke="#b5d8ef" stroke-width="0.46" opacity="0.52"/>
<line x1="241.5" y1="382.8" x2="248.1" y2="397.6" stroke="#7fb3da" stroke-width="1.02" opacity="0.52"/>
<line x1="318.0" y1="313.0" x2="324.6" y2="327.8" stroke="#080c12" stroke-width="0.95" opacity="0.30"/>
<line x1="322.5" y1="356.8" x2="329.1" y2="371.6" stroke="#080c12" stroke-width="0.69" opacity="0.73"/>
<line x1="256.0" y1="322.5" x2="262.6" y2="337.4" stroke="#b5d8ef" stroke-width="0.88" opacity="0.44"/>
<line x1="259.7" y1="320.3" x2="266.3" y2="335.2" stroke="#4a7fae" stroke-width="0.99" opacity="0.46"/>
<line x1="323.4" y1="355.7" x2="330.0" y2="370.5" stroke="#2d4a66" stroke-width="1.03" opacity="0.47"/>
<line x1="230.5" y1="371.9" x2="237.1" y2="386.8" stroke="#7fb3da" stroke-width="1.13" opacity="0.64"/>
<line x1="316.5" y1="363.5" x2="323.1" y2="378.4" stroke="#0d1520" stroke-width="0.40" opacity="0.76"/>
<line x1="323.2" y1="316.2" x2="329.8" y2="331.1" stroke="#080c12" stroke-width="0.53" opacity="0.43"/>
<line x1="240.1" y1="382.0" x2="246.7" y2="396.9" stroke="#b5d8ef" stroke-width="0.81" opacity="0.52"/>
<line x1="229.2" y1="368.7" x2="235.8" y2="383.5" stroke="#e6f2fa" stroke-width="0.52" opacity="0.42"/>
<line x1="287.5" y1="310.1" x2="294.1" y2="324.9" stroke="#cfe6f5" stroke-width="0.93" opacity="0.38"/>
<line x1="329.9" y1="343.6" x2="336.5" y2="358.5" stroke="#0d1520" stroke-width="0.80" opacity="0.52"/>
<line x1="264.5" y1="317.7" x2="271.1" y2="332.6" stroke="#b5d8ef" stroke-width="0.96" opacity="0.46"/>
<line x1="314.7" y1="311.6" x2="321.3" y2="326.4" stroke="#2d4a66" stroke-width="0.95" opacity="0.60"/>
<line x1="309.3" y1="310.1" x2="315.9" y2="324.9" stroke="#2d4a66" stroke-width="1.20" opacity="0.31"/>
<line x1="234.6" y1="377.8" x2="241.2" y2="392.7" stroke="#5d93c2" stroke-width="0.63" opacity="0.33"/>
<line x1="228.5" y1="359.7" x2="235.1" y2="374.5" stroke="#e6f2fa" stroke-width="1.15" opacity="0.58"/>
<line x1="273.8" y1="385.7" x2="280.4" y2="400.5" stroke="#cfe6f5" stroke-width="0.53" opacity="0.62"/>
<line x1="314.4" y1="311.5" x2="321.0" y2="326.3" stroke="#0d1520" stroke-width="0.40" opacity="0.42"/>
<line x1="234.7" y1="343.1" x2="241.3" y2="357.9" stroke="#e6f2fa" stroke-width="0.48" opacity="0.76"/>
<line x1="230.5" y1="371.9" x2="237.1" y2="386.7" stroke="#7fb3da" stroke-width="0.80" opacity="0.60"/>
<line x1="331.4" y1="336.9" x2="338.0" y2="351.8" stroke="#1f3348" stroke-width="0.44" opacity="0.36"/>
<line x1="312.9" y1="311.0" x2="319.5" y2="325.8" stroke="#2d4a66" stroke-width="0.46" opacity="0.43"/>
<line x1="330.4" y1="326.3" x2="337.0" y2="341.2" stroke="#0d1520" stroke-width="1.00" opacity="0.73"/>
<line x1="278.6" y1="312.2" x2="285.2" y2="327.0" stroke="#e6f2fa" stroke-width="0.87" opacity="0.44"/>
<line x1="260.8" y1="319.7" x2="267.4" y2="334.5" stroke="#e6f2fa" stroke-width="1.04" opacity="0.67"/>
<line x1="229.0" y1="367.7" x2="235.6" y2="382.6" stroke="#7fb3da" stroke-width="0.42" opacity="0.62"/>
<line x1="255.1" y1="386.6" x2="261.7" y2="401.5" stroke="#e6f2fa" stroke-width="1.14" opacity="0.48"/>
<line x1="320.8" y1="314.5" x2="327.4" y2="329.4" stroke="#1f3348" stroke-width="0.87" opacity="0.33"/>
<line x1="310.0" y1="369.2" x2="316.6" y2="384.1" stroke="#1f3348" stroke-width="0.51" opacity="0.79"/>
<line x1="252.5" y1="386.2" x2="259.1" y2="401.1" stroke="#b5d8ef" stroke-width="0.97" opacity="0.47"/>
<line x1="285.6" y1="310.4" x2="292.2" y2="325.3" stroke="#7fb3da" stroke-width="0.70" opacity="0.40"/>
<line x1="324.3" y1="317.1" x2="330.9" y2="332.0" stroke="#0d1520" stroke-width="0.90" opacity="0.68"/>
<line x1="325.2" y1="318.0" x2="331.8" y2="332.9" stroke="#080c12" stroke-width="0.60" opacity="0.70"/>
<line x1="291.6" y1="380.1" x2="298.2" y2="395.0" stroke="#5d93c2" stroke-width="1.05" opacity="0.76"/>
<line x1="234.4" y1="343.6" x2="241.0" y2="358.4" stroke="#5d93c2" stroke-width="1.14" opacity="0.46"/>
<line x1="236.7" y1="379.7" x2="243.3" y2="394.5" stroke="#cfe6f5" stroke-width="0.59" opacity="0.32"/>
<line x1="230.2" y1="352.1" x2="236.8" y2="366.9" stroke="#4a7fae" stroke-width="0.60" opacity="0.53"/>
<line x1="279.3" y1="312.0" x2="285.9" y2="326.8" stroke="#e6f2fa" stroke-width="0.61" opacity="0.46"/>
<line x1="229.4" y1="354.9" x2="236.0" y2="369.7" stroke="#4a7fae" stroke-width="0.76" opacity="0.73"/>
<line x1="238.1" y1="338.5" x2="244.7" y2="353.3" stroke="#b5d8ef" stroke-width="0.94" opacity="0.53"/>
<line x1="311.5" y1="310.6" x2="318.1" y2="325.4" stroke="#2d4a66" stroke-width="1.12" opacity="0.75"/>
<line x1="259.6" y1="386.9" x2="266.2" y2="401.8" stroke="#cfe6f5" stroke-width="0.77" opacity="0.30"/>
<line x1="244.4" y1="331.6" x2="251.0" y2="346.5" stroke="#e6f2fa" stroke-width="0.69" opacity="0.39"/>
<line x1="310.8" y1="310.4" x2="317.4" y2="325.3" stroke="#0d1520" stroke-width="0.96" opacity="0.60"/>
<line x1="230.1" y1="352.5" x2="236.7" y2="367.4" stroke="#cfe6f5" stroke-width="0.80" opacity="0.52"/>
<line x1="328.0" y1="348.2" x2="334.6" y2="363.0" stroke="#2d4a66" stroke-width="0.54" opacity="0.80"/>
<line x1="286.8" y1="310.2" x2="293.4" y2="325.1" stroke="#7fb3da" stroke-width="0.82" opacity="0.68"/>
<line x1="228.4" y1="361.2" x2="235.0" y2="376.1" stroke="#b5d8ef" stroke-width="0.46" opacity="0.47"/>
<line x1="235.1" y1="342.5" x2="241.7" y2="357.3" stroke="#cfe6f5" stroke-width="1.14" opacity="0.47"/>
<line x1="317.8" y1="312.9" x2="324.4" y2="327.8" stroke="#2d4a66" stroke-width="0.77" opacity="0.48"/>
</g>
<ellipse cx="280" cy="348" rx="55" ry="34" transform="rotate(-26 280 348)" fill="#f7e7c6"/>
<g clip-path="url(#topclip)">
<path d="M254.4,374.6 L255.3,374.1 L259.7,377.0 L258.5,382.7 L257.7,383.4 L254.9,383.6 L252.0,379.9Z" fill="#d7aa90" stroke="#d7aa90" stroke-width="1.3" stroke-linejoin="round"/>
<circle cx="256.5" cy="379.0" r="0.7" fill="#b58c6e" opacity="0.45"/>
<circle cx="255.6" cy="377.2" r="0.9" fill="#b58c6e" opacity="0.45"/>
<circle cx="253.4" cy="377.0" r="0.7" fill="#b58c6e" opacity="0.45"/>
<circle cx="256.9" cy="379.7" r="1.1" fill="#b58c6e" opacity="0.45"/>
<circle cx="253.3" cy="381.4" r="0.7" fill="#b58c6e" opacity="0.45"/>
<circle cx="255.4" cy="379.3" r="0.7" fill="#b58c6e" opacity="0.45"/>
<path d="M244.0,350.0 L242.8,354.4 L238.1,357.0 L234.9,350.9 L235.3,349.4 L243.1,349.2Z" fill="#d7aa90" stroke="#d7aa90" stroke-width="1.3" stroke-linejoin="round"/>
<circle cx="236.2" cy="350.4" r="0.9" fill="#b58c6e" opacity="0.45"/>
<circle cx="237.1" cy="350.2" r="0.6" fill="#b58c6e" opacity="0.45"/>
<circle cx="241.2" cy="351.1" r="1.0" fill="#b58c6e" opacity="0.45"/>
<circle cx="240.1" cy="351.0" r="0.8" fill="#b58c6e" opacity="0.45"/>
<circle cx="237.1" cy="352.3" r="0.9" fill="#b58c6e" opacity="0.45"/>
<circle cx="239.8" cy="353.7" r="0.7" fill="#b58c6e" opacity="0.45"/>
<path d="M321.7,328.3 L325.0,325.8 L328.9,327.0 L330.8,332.4 L329.5,334.8 L325.2,334.5 L322.4,331.7Z" fill="#dbae94" stroke="#dbae94" stroke-width="1.3" stroke-linejoin="round"/>
<circle cx="329.5" cy="329.5" r="0.9" fill="#b58c6e" opacity="0.45"/>
<circle cx="325.7" cy="330.1" r="1.1" fill="#b58c6e" opacity="0.45"/>
<circle cx="325.8" cy="331.9" r="0.8" fill="#b58c6e" opacity="0.45"/>
<circle cx="327.6" cy="329.5" r="1.1" fill="#b58c6e" opacity="0.45"/>
<circle cx="326.4" cy="331.7" r="0.8" fill="#b58c6e" opacity="0.45"/>
<circle cx="327.1" cy="332.2" r="0.8" fill="#b58c6e" opacity="0.45"/>
<path d="M300.6,359.8 L303.9,363.7 L298.5,367.0 L296.0,364.3 L297.1,360.0Z" fill="#dbae94" stroke="#dbae94" stroke-width="1.3" stroke-linejoin="round"/>
<circle cx="298.7" cy="364.7" r="0.6" fill="#b58c6e" opacity="0.45"/>
<circle cx="298.5" cy="364.0" r="1.0" fill="#b58c6e" opacity="0.45"/>
<circle cx="297.7" cy="363.3" r="1.0" fill="#b58c6e" opacity="0.45"/>
<circle cx="296.7" cy="364.9" r="1.0" fill="#b58c6e" opacity="0.45"/>
<circle cx="297.6" cy="364.0" r="1.0" fill="#b58c6e" opacity="0.45"/>
<circle cx="296.6" cy="361.4" r="0.9" fill="#b58c6e" opacity="0.45"/>
<path d="M255.6,344.5 L262.5,345.1 L263.1,344.7 L261.6,337.8 L255.7,339.2 L255.7,339.3Z" fill="#dfb498" stroke="#dfb498" stroke-width="1.3" stroke-linejoin="round"/>
<circle cx="256.9" cy="340.9" r="1.0" fill="#b58c6e" opacity="0.45"/>
<circle cx="261.4" cy="344.3" r="0.6" fill="#b58c6e" opacity="0.45"/>
<circle cx="259.0" cy="341.0" r="1.0" fill="#b58c6e" opacity="0.45"/>
<circle cx="259.3" cy="342.7" r="1.0" fill="#b58c6e" opacity="0.45"/>
<circle cx="261.1" cy="343.5" r="1.0" fill="#b58c6e" opacity="0.45"/>
<circle cx="257.1" cy="341.1" r="0.9" fill="#b58c6e" opacity="0.45"/>
<path d="M274.5,338.9 L274.5,341.2 L281.3,344.1 L283.5,342.6 L282.7,337.1 L280.0,335.8Z" fill="#e3ba9e" stroke="#e3ba9e" stroke-width="1.3" stroke-linejoin="round"/>
<circle cx="280.8" cy="337.5" r="0.6" fill="#b58c6e" opacity="0.45"/>
<circle cx="276.8" cy="339.6" r="0.7" fill="#b58c6e" opacity="0.45"/>
<circle cx="277.9" cy="340.0" r="0.9" fill="#b58c6e" opacity="0.45"/>
<circle cx="277.9" cy="341.9" r="0.9" fill="#b58c6e" opacity="0.45"/>
<circle cx="276.2" cy="340.7" r="0.7" fill="#b58c6e" opacity="0.45"/>
<circle cx="277.0" cy="338.4" r="0.7" fill="#b58c6e" opacity="0.45"/>
<path d="M266.4,314.0 L242.5,270.7 L260.4,319.9 L265.2,320.7 L265.6,320.5Z" fill="#d7aa90" stroke="#d7aa90" stroke-width="1.3" stroke-linejoin="round"/>
<circle cx="263.2" cy="315.6" r="0.7" fill="#b58c6e" opacity="0.45"/>
<circle cx="261.0" cy="315.3" r="1.0" fill="#b58c6e" opacity="0.45"/>
<circle cx="261.4" cy="314.3" r="0.7" fill="#b58c6e" opacity="0.45"/>
<circle cx="262.8" cy="318.1" r="0.9" fill="#b58c6e" opacity="0.45"/>
<circle cx="265.2" cy="314.2" r="1.1" fill="#b58c6e" opacity="0.45"/>
<circle cx="260.8" cy="318.8" r="1.2" fill="#b58c6e" opacity="0.45"/>
<path d="M228.3,361.5 L226.5,363.5 L228.2,368.1 L229.7,368.6 L235.3,366.0 L235.7,365.3 L235.0,362.1Z" fill="#d7aa90" stroke="#d7aa90" stroke-width="1.3" stroke-linejoin="round"/>
<circle cx="233.2" cy="364.6" r="1.0" fill="#b58c6e" opacity="0.45"/>
<circle cx="230.4" cy="365.2" r="1.1" fill="#b58c6e" opacity="0.45"/>
<circle cx="233.4" cy="365.8" r="0.9" fill="#b58c6e" opacity="0.45"/>
<circle cx="228.7" cy="362.9" r="0.9" fill="#b58c6e" opacity="0.45"/>
<circle cx="233.0" cy="362.5" r="0.6" fill="#b58c6e" opacity="0.45"/>
<circle cx="232.9" cy="363.7" r="0.7" fill="#b58c6e" opacity="0.45"/>
<path d="M255.7,328.5 L262.5,332.7 L262.5,332.8 L260.9,335.1 L255.0,336.6 L253.9,329.9 L254.8,328.7Z" fill="#dfb498" stroke="#dfb498" stroke-width="1.3" stroke-linejoin="round"/>
<circle cx="255.2" cy="330.7" r="1.0" fill="#b58c6e" opacity="0.45"/>
<circle cx="257.5" cy="334.1" r="0.6" fill="#b58c6e" opacity="0.45"/>
<circle cx="256.8" cy="334.5" r="1.0" fill="#b58c6e" opacity="0.45"/>
<circle cx="258.9" cy="332.5" r="1.1" fill="#b58c6e" opacity="0.45"/>
<circle cx="259.0" cy="329.9" r="0.6" fill="#b58c6e" opacity="0.45"/>
<circle cx="255.9" cy="330.9" r="1.2" fill="#b58c6e" opacity="0.45"/>
<path d="M315.0,328.2 L308.4,334.0 L310.3,337.6 L312.4,337.4 L318.4,332.6 L317.7,329.1Z" fill="#dbae94" stroke="#dbae94" stroke-width="1.3" stroke-linejoin="round"/>
<circle cx="313.4" cy="333.0" r="0.7" fill="#b58c6e" opacity="0.45"/>
<circle cx="314.6" cy="330.5" r="0.9" fill="#b58c6e" opacity="0.45"/>
<circle cx="316.1" cy="333.3" r="1.1" fill="#b58c6e" opacity="0.45"/>
<circle cx="312.1" cy="330.6" r="0.6" fill="#b58c6e" opacity="0.45"/>
<circle cx="312.4" cy="330.3" r="0.6" fill="#b58c6e" opacity="0.45"/>
<circle cx="313.2" cy="335.8" r="1.0" fill="#b58c6e" opacity="0.45"/>
<path d="M291.5,331.1 L296.5,333.6 L300.9,331.6 L299.7,325.6 L298.8,325.1 L295.4,325.1 L291.7,328.8Z" fill="#d7aa90" stroke="#d7aa90" stroke-width="1.3" stroke-linejoin="round"/>
<circle cx="294.6" cy="331.1" r="1.2" fill="#b58c6e" opacity="0.45"/>
<circle cx="294.6" cy="327.4" r="0.8" fill="#b58c6e" opacity="0.45"/>
<circle cx="294.5" cy="331.5" r="1.1" fill="#b58c6e" opacity="0.45"/>
<circle cx="293.6" cy="331.2" r="0.7" fill="#b58c6e" opacity="0.45"/>
<circle cx="294.1" cy="331.6" r="0.9" fill="#b58c6e" opacity="0.45"/>
<circle cx="298.0" cy="329.0" r="0.7" fill="#b58c6e" opacity="0.45"/>
<path d="M230.8,371.0 L232.5,375.8 L235.2,376.7 L237.2,375.2 L236.4,368.4Z" fill="#e3ba9e" stroke="#e3ba9e" stroke-width="1.3" stroke-linejoin="round"/>
<circle cx="233.0" cy="371.5" r="0.8" fill="#b58c6e" opacity="0.45"/>
<circle cx="233.8" cy="373.8" r="1.1" fill="#b58c6e" opacity="0.45"/>
<circle cx="233.0" cy="371.0" r="0.6" fill="#b58c6e" opacity="0.45"/>
<circle cx="233.7" cy="374.4" r="1.0" fill="#b58c6e" opacity="0.45"/>
<circle cx="236.2" cy="373.5" r="0.7" fill="#b58c6e" opacity="0.45"/>
<circle cx="234.0" cy="371.9" r="1.0" fill="#b58c6e" opacity="0.45"/>
<path d="M309.2,360.8 L306.3,362.0 L305.9,362.0 L302.6,358.1 L304.3,353.6 L308.7,355.3Z" fill="#dbae94" stroke="#dbae94" stroke-width="1.3" stroke-linejoin="round"/>
<circle cx="303.9" cy="356.3" r="1.0" fill="#b58c6e" opacity="0.45"/>
<circle cx="306.2" cy="355.3" r="0.7" fill="#b58c6e" opacity="0.45"/>
<circle cx="306.3" cy="358.6" r="1.0" fill="#b58c6e" opacity="0.45"/>
<circle cx="303.2" cy="359.2" r="0.6" fill="#b58c6e" opacity="0.45"/>
<circle cx="305.4" cy="355.2" r="0.8" fill="#b58c6e" opacity="0.45"/>
<circle cx="303.4" cy="354.9" r="0.6" fill="#b58c6e" opacity="0.45"/>
<path d="M290.2,333.6 L295.2,336.2 L294.5,340.1 L289.2,342.6 L287.4,342.1 L286.7,336.6Z" fill="#d7aa90" stroke="#d7aa90" stroke-width="1.3" stroke-linejoin="round"/>
<circle cx="290.3" cy="340.4" r="1.1" fill="#b58c6e" opacity="0.45"/>
<circle cx="293.9" cy="339.3" r="1.0" fill="#b58c6e" opacity="0.45"/>
<circle cx="293.3" cy="338.2" r="0.8" fill="#b58c6e" opacity="0.45"/>
<circle cx="292.0" cy="338.5" r="1.0" fill="#b58c6e" opacity="0.45"/>
<circle cx="289.9" cy="338.6" r="1.0" fill="#b58c6e" opacity="0.45"/>
<circle cx="292.2" cy="337.2" r="1.1" fill="#b58c6e" opacity="0.45"/>
<path d="M281.8,376.8 L281.7,376.8 L277.3,371.4 L279.2,366.9 L284.8,368.7 L285.4,372.0Z" fill="#e3ba9e" stroke="#e3ba9e" stroke-width="1.3" stroke-linejoin="round"/>
<circle cx="278.7" cy="369.4" r="1.0" fill="#b58c6e" opacity="0.45"/>
<circle cx="280.7" cy="369.4" r="0.7" fill="#b58c6e" opacity="0.45"/>
<circle cx="279.2" cy="371.2" r="1.0" fill="#b58c6e" opacity="0.45"/>
<circle cx="279.2" cy="371.8" r="0.8" fill="#b58c6e" opacity="0.45"/>
<circle cx="283.5" cy="373.5" r="0.7" fill="#b58c6e" opacity="0.45"/>
<circle cx="282.2" cy="372.2" r="1.1" fill="#b58c6e" opacity="0.45"/>
<path d="M282.0,352.7 L284.0,347.8 L286.1,346.2 L287.9,346.8 L291.3,351.8 L290.9,354.0 L287.5,355.8 L282.8,354.5Z" fill="#dbae94" stroke="#dbae94" stroke-width="1.3" stroke-linejoin="round"/>
<circle cx="288.3" cy="353.2" r="1.0" fill="#b58c6e" opacity="0.45"/>
<circle cx="287.3" cy="352.7" r="1.1" fill="#b58c6e" opacity="0.45"/>
<circle cx="287.0" cy="354.7" r="0.8" fill="#b58c6e" opacity="0.45"/>
<circle cx="284.8" cy="353.2" r="1.0" fill="#b58c6e" opacity="0.45"/>
<circle cx="287.3" cy="354.4" r="0.7" fill="#b58c6e" opacity="0.45"/>
<circle cx="287.9" cy="350.6" r="1.1" fill="#b58c6e" opacity="0.45"/>
<path d="M245.8,338.6 L252.3,339.3 L252.2,344.5 L250.9,346.0 L246.8,346.8 L245.9,346.0 L244.3,340.0Z" fill="#dbae94" stroke="#dbae94" stroke-width="1.3" stroke-linejoin="round"/>
<circle cx="249.9" cy="341.3" r="0.9" fill="#b58c6e" opacity="0.45"/>
<circle cx="248.3" cy="338.9" r="1.0" fill="#b58c6e" opacity="0.45"/>
<circle cx="250.1" cy="339.3" r="1.0" fill="#b58c6e" opacity="0.45"/>
<circle cx="245.8" cy="341.6" r="1.0" fill="#b58c6e" opacity="0.45"/>
<circle cx="248.6" cy="342.8" r="0.6" fill="#b58c6e" opacity="0.45"/>
<circle cx="246.6" cy="342.8" r="0.8" fill="#b58c6e" opacity="0.45"/>
<path d="M308.8,318.9 L302.1,321.7 L301.2,321.2 L301.2,313.0 L303.0,312.1 L307.5,313.8 L309.1,317.2Z" fill="#dbae94" stroke="#dbae94" stroke-width="1.3" stroke-linejoin="round"/>
<circle cx="303.2" cy="318.4" r="0.9" fill="#b58c6e" opacity="0.45"/>
<circle cx="304.1" cy="315.4" r="0.8" fill="#b58c6e" opacity="0.45"/>
<circle cx="304.2" cy="315.1" r="0.8" fill="#b58c6e" opacity="0.45"/>
<circle cx="301.4" cy="315.7" r="0.8" fill="#b58c6e" opacity="0.45"/>
<circle cx="303.2" cy="315.9" r="1.1" fill="#b58c6e" opacity="0.45"/>
<circle cx="305.1" cy="316.0" r="0.7" fill="#b58c6e" opacity="0.45"/>
<path d="M244.1,380.7 L242.9,383.7 L237.6,384.4 L237.1,379.2 L239.0,377.7 L242.4,378.1Z" fill="#d7aa90" stroke="#d7aa90" stroke-width="1.3" stroke-linejoin="round"/>
<circle cx="242.4" cy="381.6" r="0.7" fill="#b58c6e" opacity="0.45"/>
<circle cx="239.2" cy="379.3" r="0.7" fill="#b58c6e" opacity="0.45"/>
<circle cx="239.1" cy="380.5" r="1.1" fill="#b58c6e" opacity="0.45"/>
<circle cx="240.4" cy="382.8" r="0.7" fill="#b58c6e" opacity="0.45"/>
<circle cx="240.4" cy="378.7" r="0.9" fill="#b58c6e" opacity="0.45"/>
<circle cx="239.9" cy="379.8" r="0.7" fill="#b58c6e" opacity="0.45"/>
<path d="M226.7,352.7 L128.9,294.1 L231.2,347.3 L231.8,348.5 L231.4,350.0Z" fill="#d7aa90" stroke="#d7aa90" stroke-width="1.3" stroke-linejoin="round"/>
<circle cx="224.5" cy="349.0" r="1.2" fill="#b58c6e" opacity="0.45"/>
<circle cx="229.0" cy="346.6" r="0.8" fill="#b58c6e" opacity="0.45"/>
<circle cx="228.0" cy="346.4" r="0.7" fill="#b58c6e" opacity="0.45"/>
<circle cx="225.3" cy="348.7" r="0.9" fill="#b58c6e" opacity="0.45"/>
<circle cx="227.5" cy="346.9" r="0.9" fill="#b58c6e" opacity="0.45"/>
<circle cx="226.3" cy="348.0" r="0.8" fill="#b58c6e" opacity="0.45"/>
<path d="M279.4,316.6 L283.3,320.1 L288.0,316.3 L288.0,314.1 L285.7,312.3 L280.6,314.0 L279.3,316.2Z" fill="#dfb498" stroke="#dfb498" stroke-width="1.3" stroke-linejoin="round"/>
<circle cx="286.3" cy="316.6" r="1.0" fill="#b58c6e" opacity="0.45"/>
<circle cx="285.5" cy="314.0" r="0.7" fill="#b58c6e" opacity="0.45"/>
<circle cx="284.9" cy="314.1" r="0.9" fill="#b58c6e" opacity="0.45"/>
<circle cx="284.6" cy="314.1" r="1.1" fill="#b58c6e" opacity="0.45"/>
<circle cx="285.5" cy="314.4" r="0.8" fill="#b58c6e" opacity="0.45"/>
<circle cx="283.9" cy="317.9" r="0.7" fill="#b58c6e" opacity="0.45"/>
<path d="M270.9,383.1 L266.9,376.6 L263.0,377.8 L261.8,383.4 L267.9,385.1Z" fill="#dfb498" stroke="#dfb498" stroke-width="1.3" stroke-linejoin="round"/>
<circle cx="265.4" cy="380.9" r="0.9" fill="#b58c6e" opacity="0.45"/>
<circle cx="263.7" cy="384.2" r="1.2" fill="#b58c6e" opacity="0.45"/>
<circle cx="266.8" cy="382.6" r="1.1" fill="#b58c6e" opacity="0.45"/>
<circle cx="268.3" cy="382.4" r="1.1" fill="#b58c6e" opacity="0.45"/>
<circle cx="267.9" cy="381.0" r="1.1" fill="#b58c6e" opacity="0.45"/>
<circle cx="265.4" cy="381.7" r="0.9" fill="#b58c6e" opacity="0.45"/>
<path d="M277.9,326.8 L281.6,323.2 L281.6,322.1 L277.6,318.5 L274.3,323.0 L276.1,326.2Z" fill="#dfb498" stroke="#dfb498" stroke-width="1.3" stroke-linejoin="round"/>
<circle cx="276.1" cy="321.0" r="0.7" fill="#b58c6e" opacity="0.45"/>
<circle cx="277.5" cy="325.0" r="0.8" fill="#b58c6e" opacity="0.45"/>
<circle cx="279.1" cy="321.8" r="0.8" fill="#b58c6e" opacity="0.45"/>
<circle cx="277.5" cy="325.5" r="0.9" fill="#b58c6e" opacity="0.45"/>
<circle cx="280.6" cy="323.1" r="1.1" fill="#b58c6e" opacity="0.45"/>
<circle cx="275.4" cy="322.8" r="1.1" fill="#b58c6e" opacity="0.45"/>
<path d="M239.2,361.2 L239.9,364.5 L244.0,365.5 L248.5,361.9 L248.6,361.4 L244.4,357.3 L239.7,359.9Z" fill="#dfb498" stroke="#dfb498" stroke-width="1.3" stroke-linejoin="round"/>
<circle cx="244.6" cy="360.3" r="0.7" fill="#b58c6e" opacity="0.45"/>
<circle cx="246.7" cy="362.4" r="1.0" fill="#b58c6e" opacity="0.45"/>
<circle cx="244.2" cy="361.5" r="0.8" fill="#b58c6e" opacity="0.45"/>
<circle cx="246.3" cy="359.0" r="0.8" fill="#b58c6e" opacity="0.45"/>
<circle cx="246.4" cy="363.9" r="0.6" fill="#b58c6e" opacity="0.45"/>
<circle cx="244.1" cy="361.4" r="0.8" fill="#b58c6e" opacity="0.45"/>
<path d="M276.5,314.5 L277.7,312.3 L-12508.2,-27010.7 L245.8,268.8 L269.8,312.2Z" fill="#e3ba9e" stroke="#e3ba9e" stroke-width="1.3" stroke-linejoin="round"/>
<circle cx="272.1" cy="311.6" r="0.9" fill="#b58c6e" opacity="0.45"/>
<circle cx="275.3" cy="311.1" r="0.7" fill="#b58c6e" opacity="0.45"/>
<circle cx="272.5" cy="312.2" r="0.8" fill="#b58c6e" opacity="0.45"/>
<circle cx="274.1" cy="310.6" r="1.2" fill="#b58c6e" opacity="0.45"/>
<circle cx="276.5" cy="313.5" r="1.1" fill="#b58c6e" opacity="0.45"/>
<circle cx="272.8" cy="311.5" r="0.8" fill="#b58c6e" opacity="0.45"/>
<path d="M310.5,341.3 L309.7,343.4 L314.2,349.2 L315.1,349.2 L318.8,345.2 L318.7,344.8 L312.7,341.2Z" fill="#d7aa90" stroke="#d7aa90" stroke-width="1.3" stroke-linejoin="round"/>
<circle cx="314.7" cy="347.2" r="0.9" fill="#b58c6e" opacity="0.45"/>
<circle cx="314.4" cy="342.6" r="0.9" fill="#b58c6e" opacity="0.45"/>
<circle cx="315.5" cy="343.6" r="0.7" fill="#b58c6e" opacity="0.45"/>
<circle cx="314.9" cy="343.9" r="1.1" fill="#b58c6e" opacity="0.45"/>
<circle cx="313.1" cy="345.9" r="0.8" fill="#b58c6e" opacity="0.45"/>
<circle cx="314.6" cy="343.0" r="0.7" fill="#b58c6e" opacity="0.45"/>
<path d="M265.2,365.6 L266.1,372.1 L265.7,372.6 L261.8,373.8 L257.5,370.9 L257.5,370.7 L261.3,365.2Z" fill="#dfb498" stroke="#dfb498" stroke-width="1.3" stroke-linejoin="round"/>
<circle cx="261.1" cy="371.1" r="1.0" fill="#b58c6e" opacity="0.45"/>
<circle cx="263.4" cy="367.8" r="0.8" fill="#b58c6e" opacity="0.45"/>
<circle cx="261.4" cy="369.5" r="1.0" fill="#b58c6e" opacity="0.45"/>
<circle cx="263.7" cy="371.1" r="0.8" fill="#b58c6e" opacity="0.45"/>
<circle cx="264.4" cy="370.8" r="0.7" fill="#b58c6e" opacity="0.45"/>
<circle cx="261.5" cy="369.1" r="1.2" fill="#b58c6e" opacity="0.45"/>
<path d="M288.0,309.3 L148.6,-671.8 L294.3,309.2 L290.3,311.0Z" fill="#dfb498" stroke="#dfb498" stroke-width="1.3" stroke-linejoin="round"/>
<circle cx="293.8" cy="307.7" r="0.9" fill="#b58c6e" opacity="0.45"/>
<circle cx="290.5" cy="305.3" r="0.9" fill="#b58c6e" opacity="0.45"/>
<circle cx="291.4" cy="306.4" r="0.7" fill="#b58c6e" opacity="0.45"/>
<circle cx="289.7" cy="306.4" r="0.9" fill="#b58c6e" opacity="0.45"/>
<circle cx="290.8" cy="307.0" r="0.9" fill="#b58c6e" opacity="0.45"/>
<circle cx="290.1" cy="305.9" r="1.0" fill="#b58c6e" opacity="0.45"/>
<path d="M273.3,350.8 L270.7,346.5 L273.6,343.4 L280.4,346.3 L278.4,351.2Z" fill="#dfb498" stroke="#dfb498" stroke-width="1.3" stroke-linejoin="round"/>
<circle cx="277.8" cy="349.6" r="1.0" fill="#b58c6e" opacity="0.45"/>
<circle cx="275.7" cy="349.3" r="0.6" fill="#b58c6e" opacity="0.45"/>
<circle cx="274.3" cy="349.2" r="1.0" fill="#b58c6e" opacity="0.45"/>
<circle cx="274.1" cy="345.8" r="0.6" fill="#b58c6e" opacity="0.45"/>
<circle cx="273.3" cy="348.5" r="0.6" fill="#b58c6e" opacity="0.45"/>
<circle cx="272.7" cy="346.8" r="0.7" fill="#b58c6e" opacity="0.45"/>
<path d="M279.7,363.2 L280.1,364.0 L285.7,365.9 L287.3,364.2 L286.7,358.7 L282.0,357.4Z" fill="#dfb498" stroke="#dfb498" stroke-width="1.3" stroke-linejoin="round"/>
<circle cx="285.0" cy="361.1" r="1.0" fill="#b58c6e" opacity="0.45"/>
<circle cx="284.6" cy="360.3" r="0.7" fill="#b58c6e" opacity="0.45"/>
<circle cx="283.9" cy="363.0" r="1.1" fill="#b58c6e" opacity="0.45"/>
<circle cx="282.9" cy="360.5" r="0.6" fill="#b58c6e" opacity="0.45"/>
<circle cx="286.2" cy="362.2" r="1.2" fill="#b58c6e" opacity="0.45"/>
<circle cx="285.8" cy="359.7" r="1.2" fill="#b58c6e" opacity="0.45"/>
<path d="M264.6,348.4 L265.3,347.9 L268.1,348.1 L270.7,352.3 L268.0,356.1 L263.5,353.8Z" fill="#dbae94" stroke="#dbae94" stroke-width="1.3" stroke-linejoin="round"/>
<circle cx="269.4" cy="351.0" r="0.8" fill="#b58c6e" opacity="0.45"/>
<circle cx="264.5" cy="351.8" r="1.1" fill="#b58c6e" opacity="0.45"/>
<circle cx="266.9" cy="351.5" r="1.1" fill="#b58c6e" opacity="0.45"/>
<circle cx="268.7" cy="352.1" r="1.1" fill="#b58c6e" opacity="0.45"/>
<circle cx="266.0" cy="354.7" r="0.8" fill="#b58c6e" opacity="0.45"/>
<circle cx="264.9" cy="352.6" r="0.7" fill="#b58c6e" opacity="0.45"/>
<path d="M308.6,310.7 L312.9,304.1 L328.1,138.8 L304.1,309.1Z" fill="#dfb498" stroke="#dfb498" stroke-width="1.3" stroke-linejoin="round"/>
<circle cx="307.8" cy="307.9" r="1.0" fill="#b58c6e" opacity="0.45"/>
<circle cx="307.2" cy="308.3" r="0.8" fill="#b58c6e" opacity="0.45"/>
<circle cx="305.3" cy="307.4" r="0.7" fill="#b58c6e" opacity="0.45"/>
<circle cx="305.9" cy="304.4" r="1.2" fill="#b58c6e" opacity="0.45"/>
<circle cx="306.8" cy="305.0" r="0.8" fill="#b58c6e" opacity="0.45"/>
<circle cx="307.4" cy="305.7" r="0.6" fill="#b58c6e" opacity="0.45"/>
<path d="M250.0,363.7 L253.6,370.4 L253.6,370.7 L252.7,371.1 L247.3,370.6 L245.5,367.3Z" fill="#dfb498" stroke="#dfb498" stroke-width="1.3" stroke-linejoin="round"/>
<circle cx="247.8" cy="367.1" r="0.9" fill="#b58c6e" opacity="0.45"/>
<circle cx="251.8" cy="366.9" r="0.8" fill="#b58c6e" opacity="0.45"/>
<circle cx="251.6" cy="366.0" r="0.8" fill="#b58c6e" opacity="0.45"/>
<circle cx="251.7" cy="366.3" r="0.8" fill="#b58c6e" opacity="0.45"/>
<circle cx="251.1" cy="370.5" r="1.1" fill="#b58c6e" opacity="0.45"/>
<circle cx="251.7" cy="370.0" r="0.8" fill="#b58c6e" opacity="0.45"/>
<path d="M283.9,402.2 L282.5,383.0 L281.2,381.5 L281.1,381.5 L274.9,384.7Z" fill="#dfb498" stroke="#dfb498" stroke-width="1.3" stroke-linejoin="round"/>
<circle cx="279.4" cy="388.4" r="1.0" fill="#b58c6e" opacity="0.45"/>
<circle cx="278.8" cy="385.1" r="1.1" fill="#b58c6e" opacity="0.45"/>
<circle cx="281.5" cy="384.6" r="0.8" fill="#b58c6e" opacity="0.45"/>
<circle cx="278.3" cy="384.7" r="0.7" fill="#b58c6e" opacity="0.45"/>
<circle cx="280.2" cy="388.6" r="0.8" fill="#b58c6e" opacity="0.45"/>
<circle cx="281.1" cy="387.4" r="1.0" fill="#b58c6e" opacity="0.45"/>
<path d="M281.6,332.5 L284.3,333.8 L287.8,330.8 L288.0,328.5 L283.4,325.0 L279.7,328.6Z" fill="#e3ba9e" stroke="#e3ba9e" stroke-width="1.3" stroke-linejoin="round"/>
<circle cx="281.0" cy="327.4" r="1.2" fill="#b58c6e" opacity="0.45"/>
<circle cx="283.0" cy="328.3" r="1.0" fill="#b58c6e" opacity="0.45"/>
<circle cx="286.1" cy="327.8" r="1.0" fill="#b58c6e" opacity="0.45"/>
<circle cx="283.0" cy="327.8" r="1.0" fill="#b58c6e" opacity="0.45"/>
<circle cx="281.6" cy="330.4" r="1.1" fill="#b58c6e" opacity="0.45"/>
<circle cx="284.7" cy="328.7" r="1.1" fill="#b58c6e" opacity="0.45"/>
<path d="M284.3,378.8 L288.0,374.0 L293.7,375.6 L292.7,380.9 L285.6,380.3Z" fill="#d7aa90" stroke="#d7aa90" stroke-width="1.3" stroke-linejoin="round"/>
<circle cx="292.4" cy="376.1" r="0.7" fill="#b58c6e" opacity="0.45"/>
<circle cx="291.2" cy="380.4" r="1.0" fill="#b58c6e" opacity="0.45"/>
<circle cx="288.8" cy="376.7" r="0.7" fill="#b58c6e" opacity="0.45"/>
<circle cx="292.6" cy="377.6" r="0.7" fill="#b58c6e" opacity="0.45"/>
<circle cx="288.1" cy="375.5" r="0.7" fill="#b58c6e" opacity="0.45"/>
<circle cx="287.1" cy="378.0" r="1.1" fill="#b58c6e" opacity="0.45"/>
<path d="M322.2,344.4 L326.7,347.1 L328.5,346.4 L330.2,340.4 L329.2,338.5 L324.9,338.1 L322.1,343.9Z" fill="#d7aa90" stroke="#d7aa90" stroke-width="1.3" stroke-linejoin="round"/>
<circle cx="326.2" cy="342.1" r="0.9" fill="#b58c6e" opacity="0.45"/>
<circle cx="326.2" cy="342.7" r="1.0" fill="#b58c6e" opacity="0.45"/>
<circle cx="324.0" cy="341.1" r="0.7" fill="#b58c6e" opacity="0.45"/>
<circle cx="324.2" cy="340.4" r="0.9" fill="#b58c6e" opacity="0.45"/>
<circle cx="327.4" cy="343.5" r="0.6" fill="#b58c6e" opacity="0.45"/>
<circle cx="323.4" cy="340.2" r="1.2" fill="#b58c6e" opacity="0.45"/>
<path d="M268.1,335.5 L265.5,335.0 L263.9,337.3 L265.5,344.2 L268.3,344.3 L271.2,341.2 L271.2,338.9Z" fill="#e3ba9e" stroke="#e3ba9e" stroke-width="1.3" stroke-linejoin="round"/>
<circle cx="268.7" cy="339.2" r="0.9" fill="#b58c6e" opacity="0.45"/>
<circle cx="265.0" cy="339.9" r="0.9" fill="#b58c6e" opacity="0.45"/>
<circle cx="265.9" cy="342.2" r="1.1" fill="#b58c6e" opacity="0.45"/>
<circle cx="267.9" cy="342.4" r="1.2" fill="#b58c6e" opacity="0.45"/>
<circle cx="270.1" cy="341.8" r="0.9" fill="#b58c6e" opacity="0.45"/>
<circle cx="268.2" cy="338.3" r="0.7" fill="#b58c6e" opacity="0.45"/>
<path d="M305.4,366.1 L300.0,369.4 L299.6,372.4 L307.7,376.6 L305.7,366.1Z" fill="#e3ba9e" stroke="#e3ba9e" stroke-width="1.3" stroke-linejoin="round"/>
<circle cx="303.6" cy="370.9" r="0.8" fill="#b58c6e" opacity="0.45"/>
<circle cx="306.4" cy="372.7" r="0.7" fill="#b58c6e" opacity="0.45"/>
<circle cx="301.8" cy="368.1" r="0.8" fill="#b58c6e" opacity="0.45"/>
<circle cx="304.2" cy="369.7" r="0.8" fill="#b58c6e" opacity="0.45"/>
<circle cx="306.6" cy="370.7" r="1.1" fill="#b58c6e" opacity="0.45"/>
<circle cx="302.3" cy="371.4" r="0.8" fill="#b58c6e" opacity="0.45"/>
<path d="M319.0,313.0 L315.1,305.5 L310.8,312.2 L312.5,315.6Z" fill="#d7aa90" stroke="#d7aa90" stroke-width="1.3" stroke-linejoin="round"/>
<circle cx="316.6" cy="311.4" r="1.0" fill="#b58c6e" opacity="0.45"/>
<circle cx="312.4" cy="308.6" r="0.8" fill="#b58c6e" opacity="0.45"/>
<circle cx="316.9" cy="308.7" r="0.8" fill="#b58c6e" opacity="0.45"/>
<circle cx="315.0" cy="311.9" r="0.8" fill="#b58c6e" opacity="0.45"/>
<circle cx="315.4" cy="312.7" r="0.6" fill="#b58c6e" opacity="0.45"/>
<circle cx="316.8" cy="309.8" r="0.8" fill="#b58c6e" opacity="0.45"/>
<path d="M268.8,331.7 L266.3,331.2 L266.2,331.1 L267.3,323.8 L267.6,323.6 L271.8,324.4 L273.6,327.6Z" fill="#e3ba9e" stroke="#e3ba9e" stroke-width="1.3" stroke-linejoin="round"/>
<circle cx="271.7" cy="329.4" r="1.0" fill="#b58c6e" opacity="0.45"/>
<circle cx="267.4" cy="327.3" r="1.1" fill="#b58c6e" opacity="0.45"/>
<circle cx="270.1" cy="329.1" r="1.1" fill="#b58c6e" opacity="0.45"/>
<circle cx="267.9" cy="330.1" r="0.9" fill="#b58c6e" opacity="0.45"/>
<circle cx="268.2" cy="326.6" r="1.1" fill="#b58c6e" opacity="0.45"/>
<circle cx="268.6" cy="327.5" r="0.8" fill="#b58c6e" opacity="0.45"/>
<path d="M273.3,381.7 L269.3,375.1 L269.7,374.6 L275.2,373.1 L279.6,378.5 L273.4,381.7Z" fill="#dbae94" stroke="#dbae94" stroke-width="1.3" stroke-linejoin="round"/>
<circle cx="271.6" cy="377.5" r="1.0" fill="#b58c6e" opacity="0.45"/>
<circle cx="275.0" cy="378.4" r="0.9" fill="#b58c6e" opacity="0.45"/>
<circle cx="273.8" cy="374.5" r="0.9" fill="#b58c6e" opacity="0.45"/>
<circle cx="274.4" cy="375.1" r="1.0" fill="#b58c6e" opacity="0.45"/>
<circle cx="275.6" cy="379.2" r="0.9" fill="#b58c6e" opacity="0.45"/>
<circle cx="272.8" cy="379.5" r="1.2" fill="#b58c6e" opacity="0.45"/>
<path d="M294.0,366.2 L296.5,368.9 L296.1,372.0 L294.5,373.1 L288.7,371.4 L288.1,368.1 L289.7,366.5Z" fill="#d7aa90" stroke="#d7aa90" stroke-width="1.3" stroke-linejoin="round"/>
<circle cx="289.6" cy="366.8" r="1.0" fill="#b58c6e" opacity="0.45"/>
<circle cx="290.4" cy="367.4" r="0.8" fill="#b58c6e" opacity="0.45"/>
<circle cx="291.7" cy="368.5" r="0.9" fill="#b58c6e" opacity="0.45"/>
<circle cx="293.2" cy="366.8" r="0.9" fill="#b58c6e" opacity="0.45"/>
<circle cx="289.9" cy="371.0" r="1.1" fill="#b58c6e" opacity="0.45"/>
<circle cx="293.9" cy="370.4" r="0.8" fill="#b58c6e" opacity="0.45"/>
<path d="M304.5,336.0 L302.3,334.6 L297.9,336.6 L297.2,340.6 L302.0,344.4 L305.5,341.7 L306.4,339.6Z" fill="#e3ba9e" stroke="#e3ba9e" stroke-width="1.3" stroke-linejoin="round"/>
<circle cx="302.9" cy="337.5" r="0.6" fill="#b58c6e" opacity="0.45"/>
<circle cx="301.7" cy="340.9" r="1.1" fill="#b58c6e" opacity="0.45"/>
<circle cx="303.0" cy="342.3" r="0.8" fill="#b58c6e" opacity="0.45"/>
<circle cx="303.2" cy="341.1" r="1.1" fill="#b58c6e" opacity="0.45"/>
<circle cx="301.3" cy="340.1" r="0.8" fill="#b58c6e" opacity="0.45"/>
<circle cx="300.1" cy="341.7" r="1.1" fill="#b58c6e" opacity="0.45"/>
<path d="M269.9,363.4 L268.1,365.3 L268.9,371.8 L274.5,370.3 L276.3,365.7 L276.0,364.9Z" fill="#e3ba9e" stroke="#e3ba9e" stroke-width="1.3" stroke-linejoin="round"/>
<circle cx="273.0" cy="368.7" r="1.1" fill="#b58c6e" opacity="0.45"/>
<circle cx="270.2" cy="365.7" r="1.0" fill="#b58c6e" opacity="0.45"/>
<circle cx="269.2" cy="366.7" r="0.7" fill="#b58c6e" opacity="0.45"/>
<circle cx="270.2" cy="365.0" r="0.8" fill="#b58c6e" opacity="0.45"/>
<circle cx="274.3" cy="367.2" r="1.1" fill="#b58c6e" opacity="0.45"/>
<circle cx="273.0" cy="364.8" r="0.8" fill="#b58c6e" opacity="0.45"/>
<path d="M315.0,352.5 L317.7,356.0 L315.6,360.2 L313.8,361.0 L311.7,360.6 L311.2,355.1 L314.1,352.5Z" fill="#e3ba9e" stroke="#e3ba9e" stroke-width="1.3" stroke-linejoin="round"/>
<circle cx="316.0" cy="355.5" r="0.8" fill="#b58c6e" opacity="0.45"/>
<circle cx="314.9" cy="355.5" r="0.7" fill="#b58c6e" opacity="0.45"/>
<circle cx="315.5" cy="355.4" r="0.9" fill="#b58c6e" opacity="0.45"/>
<circle cx="316.6" cy="358.2" r="1.1" fill="#b58c6e" opacity="0.45"/>
<circle cx="316.7" cy="357.7" r="0.9" fill="#b58c6e" opacity="0.45"/>
<circle cx="316.5" cy="354.6" r="1.0" fill="#b58c6e" opacity="0.45"/>
<path d="M243.4,336.2 L243.6,331.5 L216.2,308.8 L238.3,337.0 L241.9,337.6Z" fill="#dbae94" stroke="#dbae94" stroke-width="1.3" stroke-linejoin="round"/>
<circle cx="238.8" cy="335.9" r="1.0" fill="#b58c6e" opacity="0.45"/>
<circle cx="237.9" cy="335.9" r="1.1" fill="#b58c6e" opacity="0.45"/>
<circle cx="239.6" cy="335.2" r="0.7" fill="#b58c6e" opacity="0.45"/>
<circle cx="239.1" cy="336.2" r="1.1" fill="#b58c6e" opacity="0.45"/>
<circle cx="239.2" cy="331.2" r="0.8" fill="#b58c6e" opacity="0.45"/>
<circle cx="241.9" cy="335.8" r="0.8" fill="#b58c6e" opacity="0.45"/>
<path d="M302.1,352.8 L300.4,357.2 L297.0,357.4 L294.3,354.7 L294.8,352.5 L301.0,350.2Z" fill="#dfb498" stroke="#dfb498" stroke-width="1.3" stroke-linejoin="round"/>
<circle cx="298.4" cy="352.6" r="1.1" fill="#b58c6e" opacity="0.45"/>
<circle cx="300.7" cy="353.8" r="0.7" fill="#b58c6e" opacity="0.45"/>
<circle cx="296.7" cy="355.2" r="1.0" fill="#b58c6e" opacity="0.45"/>
<circle cx="297.9" cy="356.0" r="0.7" fill="#b58c6e" opacity="0.45"/>
<circle cx="296.2" cy="355.8" r="1.2" fill="#b58c6e" opacity="0.45"/>
<circle cx="298.7" cy="353.2" r="1.0" fill="#b58c6e" opacity="0.45"/>
<path d="M247.6,350.9 L246.4,355.3 L250.6,359.5 L255.0,357.0 L255.2,356.5 L251.7,350.1Z" fill="#e3ba9e" stroke="#e3ba9e" stroke-width="1.3" stroke-linejoin="round"/>
<circle cx="248.8" cy="353.3" r="0.9" fill="#b58c6e" opacity="0.45"/>
<circle cx="248.8" cy="355.5" r="1.1" fill="#b58c6e" opacity="0.45"/>
<circle cx="253.3" cy="352.4" r="1.0" fill="#b58c6e" opacity="0.45"/>
<circle cx="249.5" cy="358.0" r="1.1" fill="#b58c6e" opacity="0.45"/>
<circle cx="251.3" cy="356.8" r="1.1" fill="#b58c6e" opacity="0.45"/>
<circle cx="252.5" cy="353.8" r="0.8" fill="#b58c6e" opacity="0.45"/>
<path d="M243.2,368.6 L245.0,371.8 L242.8,375.4 L239.4,375.0 L238.6,368.2 L239.1,367.5Z" fill="#dbae94" stroke="#dbae94" stroke-width="1.3" stroke-linejoin="round"/>
<circle cx="239.4" cy="374.0" r="0.9" fill="#b58c6e" opacity="0.45"/>
<circle cx="243.6" cy="373.0" r="0.7" fill="#b58c6e" opacity="0.45"/>
<circle cx="242.1" cy="372.3" r="0.6" fill="#b58c6e" opacity="0.45"/>
<circle cx="242.7" cy="372.8" r="0.7" fill="#b58c6e" opacity="0.45"/>
<circle cx="242.1" cy="369.4" r="1.1" fill="#b58c6e" opacity="0.45"/>
<circle cx="244.2" cy="369.3" r="1.0" fill="#b58c6e" opacity="0.45"/>
<path d="M313.5,326.4 L310.1,322.1 L303.5,324.9 L304.7,330.8 L306.9,332.2Z" fill="#e3ba9e" stroke="#e3ba9e" stroke-width="1.3" stroke-linejoin="round"/>
<circle cx="306.3" cy="324.7" r="0.7" fill="#b58c6e" opacity="0.45"/>
<circle cx="310.4" cy="326.4" r="0.9" fill="#b58c6e" opacity="0.45"/>
<circle cx="308.6" cy="326.4" r="0.9" fill="#b58c6e" opacity="0.45"/>
<circle cx="308.6" cy="329.8" r="0.8" fill="#b58c6e" opacity="0.45"/>
<circle cx="309.7" cy="326.2" r="0.9" fill="#b58c6e" opacity="0.45"/>
<circle cx="309.2" cy="328.9" r="0.9" fill="#b58c6e" opacity="0.45"/>
<path d="M312.5,350.6 L309.5,353.2 L305.1,351.5 L304.0,348.9 L304.4,347.5 L307.9,344.8Z" fill="#dbae94" stroke="#dbae94" stroke-width="1.3" stroke-linejoin="round"/>
<circle cx="308.7" cy="349.2" r="0.9" fill="#b58c6e" opacity="0.45"/>
<circle cx="308.9" cy="351.8" r="0.8" fill="#b58c6e" opacity="0.45"/>
<circle cx="311.4" cy="349.9" r="1.0" fill="#b58c6e" opacity="0.45"/>
<circle cx="308.7" cy="352.5" r="1.1" fill="#b58c6e" opacity="0.45"/>
<circle cx="307.0" cy="350.0" r="0.8" fill="#b58c6e" opacity="0.45"/>
<circle cx="310.3" cy="352.6" r="1.2" fill="#b58c6e" opacity="0.45"/>
<path d="M270.6,360.5 L276.7,362.0 L278.9,356.2 L278.1,354.4 L273.0,353.9 L270.3,357.7Z" fill="#dfb498" stroke="#dfb498" stroke-width="1.3" stroke-linejoin="round"/>
<circle cx="272.8" cy="358.2" r="1.0" fill="#b58c6e" opacity="0.45"/>
<circle cx="273.4" cy="355.9" r="0.6" fill="#b58c6e" opacity="0.45"/>
<circle cx="272.7" cy="357.9" r="0.8" fill="#b58c6e" opacity="0.45"/>
<circle cx="275.9" cy="359.2" r="0.7" fill="#b58c6e" opacity="0.45"/>
<circle cx="276.7" cy="358.2" r="1.1" fill="#b58c6e" opacity="0.45"/>
<circle cx="272.0" cy="355.9" r="0.9" fill="#b58c6e" opacity="0.45"/>
<path d="M291.7,316.4 L295.4,321.2 L298.8,321.2 L298.7,313.0 L295.8,312.3 L291.7,314.2Z" fill="#d7aa90" stroke="#d7aa90" stroke-width="1.3" stroke-linejoin="round"/>
<circle cx="294.5" cy="316.4" r="0.9" fill="#b58c6e" opacity="0.45"/>
<circle cx="295.1" cy="317.5" r="1.0" fill="#b58c6e" opacity="0.45"/>
<circle cx="298.2" cy="314.8" r="1.1" fill="#b58c6e" opacity="0.45"/>
<circle cx="294.2" cy="318.9" r="1.1" fill="#b58c6e" opacity="0.45"/>
<circle cx="296.2" cy="315.1" r="1.0" fill="#b58c6e" opacity="0.45"/>
<circle cx="296.9" cy="318.0" r="0.9" fill="#b58c6e" opacity="0.45"/>
<path d="M325.9,322.7 L329.9,324.0 L348.8,312.1 L326.2,318.6Z" fill="#e3ba9e" stroke="#e3ba9e" stroke-width="1.3" stroke-linejoin="round"/>
<circle cx="328.0" cy="321.1" r="0.9" fill="#b58c6e" opacity="0.45"/>
<circle cx="332.9" cy="322.2" r="0.9" fill="#b58c6e" opacity="0.45"/>
<circle cx="329.2" cy="322.1" r="0.6" fill="#b58c6e" opacity="0.45"/>
<circle cx="328.4" cy="317.5" r="1.0" fill="#b58c6e" opacity="0.45"/>
<circle cx="331.8" cy="317.9" r="1.2" fill="#b58c6e" opacity="0.45"/>
<circle cx="330.0" cy="322.2" r="0.6" fill="#b58c6e" opacity="0.45"/>
<path d="M320.7,347.0 L325.1,349.7 L323.7,354.0 L319.7,354.5 L317.0,351.0Z" fill="#d7aa90" stroke="#d7aa90" stroke-width="1.3" stroke-linejoin="round"/>
<circle cx="322.4" cy="349.9" r="0.6" fill="#b58c6e" opacity="0.45"/>
<circle cx="321.9" cy="353.0" r="1.2" fill="#b58c6e" opacity="0.45"/>
<circle cx="322.0" cy="352.0" r="1.2" fill="#b58c6e" opacity="0.45"/>
<circle cx="322.9" cy="351.5" r="1.0" fill="#b58c6e" opacity="0.45"/>
<circle cx="320.3" cy="353.3" r="0.6" fill="#b58c6e" opacity="0.45"/>
<circle cx="323.2" cy="353.0" r="1.0" fill="#b58c6e" opacity="0.45"/>
<path d="M270.3,333.5 L275.1,329.3 L277.0,329.9 L279.0,333.9 L273.4,336.9Z" fill="#dbae94" stroke="#dbae94" stroke-width="1.3" stroke-linejoin="round"/>
<circle cx="272.6" cy="330.8" r="0.9" fill="#b58c6e" opacity="0.45"/>
<circle cx="273.0" cy="331.4" r="1.2" fill="#b58c6e" opacity="0.45"/>
<circle cx="272.4" cy="333.6" r="0.8" fill="#b58c6e" opacity="0.45"/>
<circle cx="273.5" cy="331.1" r="0.9" fill="#b58c6e" opacity="0.45"/>
<circle cx="274.3" cy="333.8" r="0.9" fill="#b58c6e" opacity="0.45"/>
<circle cx="273.4" cy="333.7" r="0.9" fill="#b58c6e" opacity="0.45"/>
<path d="M316.5,324.1 L313.1,319.8 L313.5,318.1 L320.0,315.5 L320.8,315.7 L322.7,318.3 L322.4,322.5 L319.2,325.1Z" fill="#e3ba9e" stroke="#e3ba9e" stroke-width="1.3" stroke-linejoin="round"/>
<circle cx="320.1" cy="320.0" r="1.1" fill="#b58c6e" opacity="0.45"/>
<circle cx="318.2" cy="320.6" r="1.0" fill="#b58c6e" opacity="0.45"/>
<circle cx="319.9" cy="319.5" r="0.8" fill="#b58c6e" opacity="0.45"/>
<circle cx="317.3" cy="316.9" r="0.8" fill="#b58c6e" opacity="0.45"/>
<circle cx="319.4" cy="320.5" r="1.0" fill="#b58c6e" opacity="0.45"/>
<circle cx="316.2" cy="318.9" r="1.0" fill="#b58c6e" opacity="0.45"/>
<path d="M258.9,357.7 L258.7,358.2 L261.6,362.3 L265.5,362.7 L267.3,360.9 L267.0,358.1 L262.5,355.8Z" fill="#dbae94" stroke="#dbae94" stroke-width="1.3" stroke-linejoin="round"/>
<circle cx="263.7" cy="356.6" r="0.9" fill="#b58c6e" opacity="0.45"/>
<circle cx="265.0" cy="357.9" r="0.8" fill="#b58c6e" opacity="0.45"/>
<circle cx="262.7" cy="360.0" r="0.8" fill="#b58c6e" opacity="0.45"/>
<circle cx="265.2" cy="356.4" r="0.9" fill="#b58c6e" opacity="0.45"/>
<circle cx="263.9" cy="356.4" r="1.2" fill="#b58c6e" opacity="0.45"/>
<circle cx="263.6" cy="360.9" r="0.7" fill="#b58c6e" opacity="0.45"/>
<path d="M228.5,359.0 L235.3,359.5 L235.8,358.2 L232.6,352.2 L228.0,354.8Z" fill="#dfb498" stroke="#dfb498" stroke-width="1.3" stroke-linejoin="round"/>
<circle cx="232.2" cy="353.5" r="0.8" fill="#b58c6e" opacity="0.45"/>
<circle cx="228.8" cy="355.8" r="1.1" fill="#b58c6e" opacity="0.45"/>
<circle cx="229.0" cy="355.5" r="0.9" fill="#b58c6e" opacity="0.45"/>
<circle cx="229.1" cy="353.6" r="1.0" fill="#b58c6e" opacity="0.45"/>
<circle cx="229.8" cy="357.8" r="1.1" fill="#b58c6e" opacity="0.45"/>
<circle cx="229.5" cy="358.2" r="0.7" fill="#b58c6e" opacity="0.45"/>
<path d="M317.9,361.4 L330.0,366.2 L324.0,356.7 L320.0,357.1Z" fill="#dfb498" stroke="#dfb498" stroke-width="1.3" stroke-linejoin="round"/>
<circle cx="322.2" cy="359.7" r="1.1" fill="#b58c6e" opacity="0.45"/>
<circle cx="320.5" cy="359.2" r="0.8" fill="#b58c6e" opacity="0.45"/>
<circle cx="324.0" cy="360.4" r="0.7" fill="#b58c6e" opacity="0.45"/>
<circle cx="322.6" cy="359.4" r="0.9" fill="#b58c6e" opacity="0.45"/>
<circle cx="321.1" cy="360.7" r="1.0" fill="#b58c6e" opacity="0.45"/>
<circle cx="319.6" cy="361.9" r="1.1" fill="#b58c6e" opacity="0.45"/>
<path d="M312.9,365.0 L319.4,387.4 L309.8,376.2 L307.9,365.7 L310.8,364.5Z" fill="#e3ba9e" stroke="#e3ba9e" stroke-width="1.3" stroke-linejoin="round"/>
<circle cx="312.2" cy="370.0" r="0.7" fill="#b58c6e" opacity="0.45"/>
<circle cx="312.3" cy="367.5" r="0.8" fill="#b58c6e" opacity="0.45"/>
<circle cx="312.2" cy="371.1" r="0.8" fill="#b58c6e" opacity="0.45"/>
<circle cx="312.0" cy="370.7" r="0.6" fill="#b58c6e" opacity="0.45"/>
<circle cx="308.9" cy="369.5" r="0.7" fill="#b58c6e" opacity="0.45"/>
<circle cx="312.4" cy="369.7" r="0.7" fill="#b58c6e" opacity="0.45"/>
<path d="M300.0,347.7 L300.5,346.4 L295.7,342.6 L290.4,345.1 L293.8,350.1Z" fill="#d7aa90" stroke="#d7aa90" stroke-width="1.3" stroke-linejoin="round"/>
<circle cx="296.0" cy="347.3" r="1.0" fill="#b58c6e" opacity="0.45"/>
<circle cx="293.2" cy="347.5" r="1.1" fill="#b58c6e" opacity="0.45"/>
<circle cx="297.3" cy="344.1" r="0.9" fill="#b58c6e" opacity="0.45"/>
<circle cx="293.0" cy="348.2" r="1.1" fill="#b58c6e" opacity="0.45"/>
<circle cx="296.9" cy="348.2" r="1.1" fill="#b58c6e" opacity="0.45"/>
<circle cx="293.1" cy="344.1" r="0.7" fill="#b58c6e" opacity="0.45"/>
<path d="M246.0,336.3 L246.2,331.6 L251.5,330.3 L252.6,337.0 L252.5,337.0Z" fill="#dbae94" stroke="#dbae94" stroke-width="1.3" stroke-linejoin="round"/>
<circle cx="250.1" cy="335.3" r="0.6" fill="#b58c6e" opacity="0.45"/>
<circle cx="247.3" cy="332.2" r="0.8" fill="#b58c6e" opacity="0.45"/>
<circle cx="251.4" cy="331.7" r="0.9" fill="#b58c6e" opacity="0.45"/>
<circle cx="249.1" cy="332.7" r="0.6" fill="#b58c6e" opacity="0.45"/>
<circle cx="251.0" cy="333.9" r="0.8" fill="#b58c6e" opacity="0.45"/>
<circle cx="251.4" cy="331.5" r="1.1" fill="#b58c6e" opacity="0.45"/>
<path d="M289.5,326.6 L293.2,322.9 L289.5,318.1 L284.8,321.9 L284.9,323.0Z" fill="#d7aa90" stroke="#d7aa90" stroke-width="1.3" stroke-linejoin="round"/>
<circle cx="286.2" cy="321.1" r="0.9" fill="#b58c6e" opacity="0.45"/>
<circle cx="286.4" cy="320.9" r="1.0" fill="#b58c6e" opacity="0.45"/>
<circle cx="291.4" cy="324.1" r="0.7" fill="#b58c6e" opacity="0.45"/>
<circle cx="287.6" cy="320.5" r="0.9" fill="#b58c6e" opacity="0.45"/>
<circle cx="289.3" cy="320.0" r="0.7" fill="#b58c6e" opacity="0.45"/>
<circle cx="286.7" cy="323.1" r="0.9" fill="#b58c6e" opacity="0.45"/>
<path d="M254.1,348.8 L257.6,355.2 L261.2,353.3 L262.2,347.9 L255.4,347.3Z" fill="#e3ba9e" stroke="#e3ba9e" stroke-width="1.3" stroke-linejoin="round"/>
<circle cx="260.3" cy="350.9" r="1.1" fill="#b58c6e" opacity="0.45"/>
<circle cx="261.0" cy="353.0" r="1.1" fill="#b58c6e" opacity="0.45"/>
<circle cx="257.5" cy="352.3" r="1.0" fill="#b58c6e" opacity="0.45"/>
<circle cx="258.6" cy="349.2" r="0.9" fill="#b58c6e" opacity="0.45"/>
<circle cx="259.8" cy="350.8" r="1.1" fill="#b58c6e" opacity="0.45"/>
<circle cx="257.9" cy="352.4" r="0.7" fill="#b58c6e" opacity="0.45"/>
<path d="M250.1,381.4 L253.1,385.1 L248.7,389.5 L245.4,384.7 L246.6,381.6Z" fill="#dbae94" stroke="#dbae94" stroke-width="1.3" stroke-linejoin="round"/>
<circle cx="246.9" cy="381.8" r="1.0" fill="#b58c6e" opacity="0.45"/>
<circle cx="250.9" cy="383.5" r="0.7" fill="#b58c6e" opacity="0.45"/>
<circle cx="246.4" cy="385.4" r="0.6" fill="#b58c6e" opacity="0.45"/>
<circle cx="247.5" cy="385.9" r="1.0" fill="#b58c6e" opacity="0.45"/>
<circle cx="250.9" cy="385.4" r="0.6" fill="#b58c6e" opacity="0.45"/>
<circle cx="247.1" cy="383.8" r="1.2" fill="#b58c6e" opacity="0.45"/>
<path d="M292.3,356.7 L289.0,358.5 L289.5,364.0 L293.9,363.8 L295.0,359.4Z" fill="#dfb498" stroke="#dfb498" stroke-width="1.3" stroke-linejoin="round"/>
<circle cx="294.0" cy="362.2" r="0.7" fill="#b58c6e" opacity="0.45"/>
<circle cx="292.9" cy="359.6" r="1.2" fill="#b58c6e" opacity="0.45"/>
<circle cx="293.4" cy="359.8" r="1.2" fill="#b58c6e" opacity="0.45"/>
<circle cx="291.0" cy="359.0" r="0.8" fill="#b58c6e" opacity="0.45"/>
<circle cx="292.1" cy="359.8" r="0.6" fill="#b58c6e" opacity="0.45"/>
<circle cx="292.0" cy="361.4" r="0.9" fill="#b58c6e" opacity="0.45"/>
<path d="M252.1,362.2 L256.5,359.7 L259.4,363.9 L255.6,369.3 L252.0,362.6Z" fill="#dbae94" stroke="#dbae94" stroke-width="1.3" stroke-linejoin="round"/>
<circle cx="254.8" cy="364.8" r="0.8" fill="#b58c6e" opacity="0.45"/>
<circle cx="253.8" cy="362.1" r="0.6" fill="#b58c6e" opacity="0.45"/>
<circle cx="253.7" cy="365.6" r="1.1" fill="#b58c6e" opacity="0.45"/>
<circle cx="257.0" cy="365.3" r="0.8" fill="#b58c6e" opacity="0.45"/>
<circle cx="255.6" cy="362.6" r="0.7" fill="#b58c6e" opacity="0.45"/>
<circle cx="256.7" cy="363.4" r="0.8" fill="#b58c6e" opacity="0.45"/>
<path d="M228.6,371.8 L230.3,376.6 L138.1,437.7 L227.1,371.3Z" fill="#e3ba9e" stroke="#e3ba9e" stroke-width="1.3" stroke-linejoin="round"/>
<circle cx="227.8" cy="377.5" r="1.2" fill="#b58c6e" opacity="0.45"/>
<circle cx="228.5" cy="374.7" r="1.0" fill="#b58c6e" opacity="0.45"/>
<circle cx="228.8" cy="374.3" r="0.6" fill="#b58c6e" opacity="0.45"/>
<circle cx="228.7" cy="373.4" r="0.8" fill="#b58c6e" opacity="0.45"/>
<circle cx="227.6" cy="375.0" r="0.7" fill="#b58c6e" opacity="0.45"/>
<circle cx="229.6" cy="377.3" r="0.6" fill="#b58c6e" opacity="0.45"/>
<path d="M241.4,340.8 L237.7,340.2 L234.7,345.8 L235.2,347.1 L243.0,346.8Z" fill="#dbae94" stroke="#dbae94" stroke-width="1.3" stroke-linejoin="round"/>
<circle cx="238.6" cy="342.1" r="0.9" fill="#b58c6e" opacity="0.45"/>
<circle cx="236.9" cy="345.7" r="1.1" fill="#b58c6e" opacity="0.45"/>
<circle cx="238.0" cy="343.0" r="1.1" fill="#b58c6e" opacity="0.45"/>
<circle cx="236.5" cy="342.3" r="1.1" fill="#b58c6e" opacity="0.45"/>
<circle cx="239.2" cy="343.5" r="1.0" fill="#b58c6e" opacity="0.45"/>
<circle cx="236.8" cy="345.3" r="1.1" fill="#b58c6e" opacity="0.45"/>
<path d="M264.8,404.2 L260.4,386.4 L261.2,385.7 L267.3,387.4Z" fill="#d7aa90" stroke="#d7aa90" stroke-width="1.3" stroke-linejoin="round"/>
<circle cx="261.5" cy="389.8" r="0.6" fill="#b58c6e" opacity="0.45"/>
<circle cx="265.8" cy="392.1" r="0.9" fill="#b58c6e" opacity="0.45"/>
<circle cx="266.0" cy="389.4" r="0.6" fill="#b58c6e" opacity="0.45"/>
<circle cx="261.7" cy="387.3" r="1.0" fill="#b58c6e" opacity="0.45"/>
<circle cx="264.5" cy="390.3" r="1.0" fill="#b58c6e" opacity="0.45"/>
<circle cx="265.9" cy="386.7" r="1.0" fill="#b58c6e" opacity="0.45"/>
<path d="M319.9,334.3 L322.6,337.0 L319.8,342.8 L313.9,339.2Z" fill="#dfb498" stroke="#dfb498" stroke-width="1.3" stroke-linejoin="round"/>
<circle cx="317.0" cy="340.5" r="1.2" fill="#b58c6e" opacity="0.45"/>
<circle cx="321.2" cy="337.7" r="0.9" fill="#b58c6e" opacity="0.45"/>
<circle cx="318.0" cy="337.1" r="0.7" fill="#b58c6e" opacity="0.45"/>
<circle cx="321.2" cy="339.7" r="1.1" fill="#b58c6e" opacity="0.45"/>
<circle cx="317.4" cy="341.4" r="0.8" fill="#b58c6e" opacity="0.45"/>
<circle cx="317.1" cy="339.3" r="1.1" fill="#b58c6e" opacity="0.45"/>
<path d="M247.0,373.1 L244.8,376.7 L246.4,379.2 L249.9,378.9 L252.4,373.6Z" fill="#dbae94" stroke="#dbae94" stroke-width="1.3" stroke-linejoin="round"/>
<circle cx="247.5" cy="376.2" r="1.0" fill="#b58c6e" opacity="0.45"/>
<circle cx="250.2" cy="374.1" r="0.8" fill="#b58c6e" opacity="0.45"/>
<circle cx="246.6" cy="375.6" r="0.7" fill="#b58c6e" opacity="0.45"/>
<circle cx="250.3" cy="374.6" r="0.7" fill="#b58c6e" opacity="0.45"/>
<circle cx="247.2" cy="375.9" r="1.1" fill="#b58c6e" opacity="0.45"/>
<circle cx="248.4" cy="374.4" r="0.9" fill="#b58c6e" opacity="0.45"/>
<path d="M256.9,326.5 L259.9,322.6 L264.7,323.5 L263.7,330.7Z" fill="#dbae94" stroke="#dbae94" stroke-width="1.3" stroke-linejoin="round"/>
<circle cx="260.3" cy="325.8" r="0.7" fill="#b58c6e" opacity="0.45"/>
<circle cx="259.6" cy="326.7" r="1.2" fill="#b58c6e" opacity="0.45"/>
<circle cx="259.1" cy="324.5" r="0.9" fill="#b58c6e" opacity="0.45"/>
<circle cx="263.0" cy="328.6" r="0.8" fill="#b58c6e" opacity="0.45"/>
<circle cx="262.9" cy="326.7" r="1.2" fill="#b58c6e" opacity="0.45"/>
<circle cx="262.1" cy="328.8" r="0.9" fill="#b58c6e" opacity="0.45"/>
<path d="M275.7,317.1 L272.4,321.7 L268.2,320.8 L269.0,314.4 L275.7,316.7Z" fill="#dbae94" stroke="#dbae94" stroke-width="1.3" stroke-linejoin="round"/>
<circle cx="269.9" cy="319.5" r="1.0" fill="#b58c6e" opacity="0.45"/>
<circle cx="271.6" cy="317.3" r="1.1" fill="#b58c6e" opacity="0.45"/>
<circle cx="272.6" cy="316.8" r="1.0" fill="#b58c6e" opacity="0.45"/>
<circle cx="272.1" cy="319.3" r="0.7" fill="#b58c6e" opacity="0.45"/>
<circle cx="269.4" cy="319.7" r="1.1" fill="#b58c6e" opacity="0.45"/>
<circle cx="268.9" cy="318.0" r="1.1" fill="#b58c6e" opacity="0.45"/>
</g>
<ellipse cx="280" cy="348" rx="55" ry="34" transform="rotate(-26 280 348)" fill="none" stroke="#f3dfb8" stroke-width="0.8"/>
<ellipse cx="82.55" cy="403.4" rx="70.6" ry="72.3" fill="#fff" stroke="#3a3a3a" stroke-width="1.1"/>
<line x1="154" y1="399.4" x2="233.5" y2="399.4" stroke="#333" stroke-width="1"/>
<circle cx="233.5" cy="399.4" r="2.6" fill="#1a0a0a"/>
<defs><clipPath id="hemclip"><ellipse cx="82.55" cy="403.4" rx="70" ry="71.7"/></clipPath></defs>
<g clip-path="url(#hemclip)"><path d="M48.9,363.1 C54.1,360.4 63.1,360.7 70.0,360.0 C76.8,359.3 82.7,357.5 90.0,358.9 C97.3,360.3 107.2,365.7 114.0,368.3 C120.8,370.9 127.9,371.9 131.1,374.3 C134.2,376.7 132.6,379.4 132.9,382.9 C133.2,386.3 133.3,391.6 133.0,395.0 C132.7,398.4 131.9,400.1 131.1,403.4 C130.3,406.7 129.7,411.6 128.0,415.0 C126.3,418.4 123.2,420.2 120.9,424.0 C118.6,427.8 116.3,434.0 114.0,438.0 C111.7,442.0 111.1,445.9 107.1,448.0 C103.1,450.1 96.3,451.0 90.0,450.6 C83.7,450.2 76.2,447.3 69.4,445.4 C62.6,443.5 53.8,442.4 48.9,439.4 C44.0,436.4 44.3,432.5 40.3,427.4 C36.3,422.3 27.8,414.0 24.9,408.6 C22.0,403.2 22.2,398.3 23.1,394.9 C24.0,391.5 27.4,391.1 30.0,388.0 C32.6,384.9 35.5,380.1 38.6,376.0 C41.8,371.9 43.7,365.8 48.9,363.1Z" fill="#a8261a"/>
<g transform="rotate(10 52.3 377.7)"><ellipse cx="52.3" cy="377.7" rx="15.768" ry="13.932000000000002" fill="#d4432f" stroke="#8a160e" stroke-width="0.9"/><ellipse cx="53.56144" cy="379.09319999999997" rx="9.77616" ry="7.662600000000002" fill="#b02a1c" opacity="0.75"/><ellipse cx="47.569599999999994" cy="371.43059999999997" rx="7.0956" ry="3.0650400000000007" fill="#e05a44" opacity="0.35"/></g>
<g transform="rotate(0 86.6 370.9)"><ellipse cx="86.6" cy="370.9" rx="16.632" ry="12.96" fill="#c43524" stroke="#8a160e" stroke-width="0.9"/><ellipse cx="87.93056" cy="372.19599999999997" rx="10.31184" ry="7.128000000000001" fill="#a02014" opacity="0.75"/><ellipse cx="81.6104" cy="365.068" rx="7.484400000000001" ry="2.8512000000000004" fill="#e05a44" opacity="0.35"/></g>
<g transform="rotate(15 117.4 379.4)"><ellipse cx="117.4" cy="379.4" rx="17.604000000000003" ry="11.124000000000002" fill="#d24632" stroke="#8a160e" stroke-width="0.9"/><ellipse cx="118.80832000000001" cy="380.51239999999996" rx="10.914480000000001" ry="6.118200000000002" fill="#ac2c1c" opacity="0.75"/><ellipse cx="112.11880000000001" cy="374.39419999999996" rx="7.921800000000001" ry="2.4472800000000006" fill="#e05a44" opacity="0.35"/></g>
<g transform="rotate(30 35.1 403.4)"><ellipse cx="35.1" cy="403.4" rx="14.796" ry="14.796" fill="#d0402c" stroke="#8a160e" stroke-width="0.9"/><ellipse cx="36.283680000000004" cy="404.8796" rx="9.17352" ry="8.1378" fill="#aa2a1c" opacity="0.75"/><ellipse cx="30.6612" cy="396.74179999999996" rx="6.6582" ry="3.25512" fill="#e05a44" opacity="0.35"/></g>
<g transform="rotate(0 117.4 403.4)"><ellipse cx="117.4" cy="403.4" rx="14.796" ry="18.36" fill="#c8392a" stroke="#8a160e" stroke-width="0.9"/><ellipse cx="118.58368" cy="405.236" rx="9.17352" ry="10.098" fill="#a22216" opacity="0.75"/><ellipse cx="112.9612" cy="395.138" rx="6.6582" ry="4.0392" fill="#e05a44" opacity="0.35"/></g>
<g transform="rotate(0 74.6 394.6)"><ellipse cx="74.6" cy="394.6" rx="18.36" ry="14.796" fill="#b02a1c" stroke="#8a160e" stroke-width="0.9"/><ellipse cx="76.0688" cy="396.0796" rx="11.3832" ry="8.1378" fill="#8e1a10" opacity="0.75"/><ellipse cx="69.092" cy="387.9418" rx="8.262" ry="3.25512" fill="#e05a44" opacity="0.35"/></g>
<g transform="rotate(0 103.7 417.1)"><ellipse cx="103.7" cy="417.1" rx="14.796" ry="11.124000000000002" fill="#b82e20" stroke="#8a160e" stroke-width="0.9"/><ellipse cx="104.88368" cy="418.2124" rx="9.17352" ry="6.118200000000002" fill="#961c12" opacity="0.75"/><ellipse cx="99.2612" cy="412.0942" rx="6.6582" ry="2.4472800000000006" fill="#e05a44" opacity="0.35"/></g>
<g transform="rotate(0 69.4 414)"><ellipse cx="69.4" cy="414" rx="18.36" ry="12.96" fill="#cf3f2c" stroke="#8a160e" stroke-width="0.9"/><ellipse cx="70.86880000000001" cy="415.296" rx="11.3832" ry="7.128000000000001" fill="#aa2818" opacity="0.75"/><ellipse cx="63.892" cy="408.168" rx="8.262" ry="2.8512000000000004" fill="#e05a44" opacity="0.35"/></g>
<g transform="rotate(5 57.4 432.6)"><ellipse cx="57.4" cy="432.6" rx="16.632" ry="12.96" fill="#cf412e" stroke="#8a160e" stroke-width="0.9"/><ellipse cx="58.73056" cy="433.896" rx="10.31184" ry="7.128000000000001" fill="#a92819" opacity="0.75"/><ellipse cx="52.410399999999996" cy="426.76800000000003" rx="7.484400000000001" ry="2.8512000000000004" fill="#e05a44" opacity="0.35"/></g>
<g transform="rotate(-5 93.4 437.7)"><ellipse cx="93.4" cy="437.7" rx="18.36" ry="14.796" fill="#d4462f" stroke="#8a160e" stroke-width="0.9"/><ellipse cx="94.86880000000001" cy="439.1796" rx="11.3832" ry="8.1378" fill="#ae2c1c" opacity="0.75"/><ellipse cx="87.89200000000001" cy="431.04179999999997" rx="8.262" ry="3.25512" fill="#e05a44" opacity="0.35"/></g>
<path d="M112.6,373.6 C114.4,379.2 126.4,398.1 123.8,407.3 C121.2,416.5 107.2,424.0 97.1,428.9 C86.9,433.7 67.5,436.5 62.7,436.4 C58.0,436.2 67.5,429.4 68.4,428.0" stroke="#f7c48c" stroke-width="0.8" fill="none"/>
<path d="M121.2,428.4 C114.9,422.1 86.4,393.6 83.9,390.5 C81.3,387.5 110.5,402.1 105.7,410.1 C100.9,418.1 63.6,433.7 55.2,438.4" stroke="#f7c48c" stroke-width="0.8" fill="none"/>
<path d="M48.5,370.4 C52.5,369.7 74.5,363.2 72.5,366.0 C70.5,368.8 43.2,385.6 36.4,387.3 C29.7,389.0 32.3,379.9 32.0,376.3 C31.7,372.8 34.0,367.7 34.4,366.0" stroke="#f7c48c" stroke-width="0.8" fill="none"/>
<path d="M54.0,442.3 C57.2,435.9 73.2,412.6 73.3,404.1 C73.3,395.7 61.2,396.8 54.3,391.4 C47.5,386.0 29.8,373.1 32.0,371.6 C34.2,370.1 61.5,380.6 67.4,382.4" stroke="#f7c48c" stroke-width="0.8" fill="none"/>
<path d="M64.4,364.5 C63.0,365.0 58.8,367.2 56.4,367.4 C54.1,367.7 45.5,364.1 50.3,366.0 C55.2,367.9 79.6,376.9 85.5,379.1" stroke="#f7c48c" stroke-width="0.8" fill="none"/>
<path d="M38.7,432.5 C48.1,433.9 93.7,445.6 95.0,441.0 C96.3,436.3 46.5,410.8 46.5,404.4 C46.6,398.0 82.0,404.0 95.1,402.8 C108.2,401.6 120.0,398.2 125.0,397.3" stroke="#f7c48c" stroke-width="0.8" fill="none"/>
<path d="M30.4,388.0 C30.7,391.3 30.1,406.7 32.0,407.7 C33.9,408.7 42.0,396.6 42.0,394.3 C42.0,392.0 33.7,393.9 32.0,393.9" stroke="#f7c48c" stroke-width="0.8" fill="none"/>
<path d="M112.5,436.4 C112.4,428.6 115.2,396.1 111.8,389.4 C108.4,382.7 94.1,397.8 92.1,396.4 C90.1,394.9 98.4,383.3 99.6,380.7" stroke="#f7c48c" stroke-width="0.8" fill="none"/>
<path d="M129.8,401.1 C129.1,400.6 131.7,399.0 125.5,397.9 C119.2,396.8 92.6,399.7 92.4,394.7 C92.3,389.7 119.1,372.4 124.4,367.9" stroke="#f7c48c" stroke-width="0.8" fill="none"/>
<path d="M130.0,404.4 C119.3,401.2 68.7,385.2 65.6,384.7 C62.5,384.2 105.6,403.2 111.5,401.4 C117.3,399.6 109.3,376.5 100.9,373.9 C92.5,371.3 67.8,383.7 61.1,385.7" stroke="#f7c48c" stroke-width="0.8" fill="none"/>
<path d="M85.4,363.4 C82.5,364.7 75.8,370.7 68.0,371.2 C60.3,371.6 39.4,366.4 38.9,366.0 C38.4,365.6 60.7,368.5 65.1,369.1" stroke="#f7c48c" stroke-width="0.8" fill="none"/>
<polygon points="76.5,364.0 74.6,365.2 74.1,367.3 72.4,365.9 70.2,366.1 71.0,364.0 70.2,361.9 72.4,362.1 74.1,360.7 74.6,362.8" fill="#eaa0ae" opacity="0.9"/><circle cx="73" cy="364" r="1.7600000000000002" fill="#f0b6c0"/>
<polygon points="42.5,390.0 40.6,391.2 40.1,393.3 38.4,391.9 36.2,392.1 37.0,390.0 36.2,387.9 38.4,388.1 40.1,386.7 40.6,388.8" fill="#eaa0ae" opacity="0.9"/><circle cx="39" cy="390" r="1.7600000000000002" fill="#f0b6c0"/>
<polygon points="123.5,383.0 121.6,384.2 121.1,386.3 119.4,384.9 117.2,385.1 118.0,383.0 117.2,380.9 119.4,381.1 121.1,379.7 121.6,381.8" fill="#eaa0ae" opacity="0.9"/><circle cx="120" cy="383" r="1.7600000000000002" fill="#f0b6c0"/>
<polygon points="95.5,393.0 93.6,394.2 93.1,396.3 91.4,394.9 89.2,395.1 90.0,393.0 89.2,390.9 91.4,391.1 93.1,389.7 93.6,391.8" fill="#eaa0ae" opacity="0.9"/><circle cx="92" cy="393" r="1.7600000000000002" fill="#f0b6c0"/>
<polygon points="55.5,410.0 53.6,411.2 53.1,413.3 51.4,411.9 49.2,412.1 50.0,410.0 49.2,407.9 51.4,408.1 53.1,406.7 53.6,408.8" fill="#eaa0ae" opacity="0.9"/><circle cx="52" cy="410" r="1.7600000000000002" fill="#f0b6c0"/>
<polygon points="78.5,425.0 76.6,426.2 76.1,428.3 74.4,426.9 72.2,427.1 73.0,425.0 72.2,422.9 74.4,423.1 76.1,421.7 76.6,423.8" fill="#eaa0ae" opacity="0.9"/><circle cx="75" cy="425" r="1.7600000000000002" fill="#f0b6c0"/>
<polygon points="115.5,408.0 113.6,409.2 113.1,411.3 111.4,409.9 109.2,410.1 110.0,408.0 109.2,405.9 111.4,406.1 113.1,404.7 113.6,406.8" fill="#eaa0ae" opacity="0.9"/><circle cx="112" cy="408" r="1.7600000000000002" fill="#f0b6c0"/>
<polygon points="46.5,422.0 44.6,423.2 44.1,425.3 42.4,423.9 40.2,424.1 41.0,422.0 40.2,419.9 42.4,420.1 44.1,418.7 44.6,420.8" fill="#eaa0ae" opacity="0.9"/><circle cx="43" cy="422" r="1.7600000000000002" fill="#f0b6c0"/>
<polygon points="113.5,437.0 111.6,438.2 111.1,440.3 109.4,438.9 107.2,439.1 108.0,437.0 107.2,434.9 109.4,435.1 111.1,433.7 111.6,435.8" fill="#eaa0ae" opacity="0.9"/><circle cx="110" cy="437" r="1.7600000000000002" fill="#f0b6c0"/>
<polygon points="83.5,387.0 81.6,388.2 81.1,390.3 79.4,388.9 77.2,389.1 78.0,387.0 77.2,384.9 79.4,385.1 81.1,383.7 81.6,385.8" fill="#eaa0ae" opacity="0.9"/><circle cx="80" cy="387" r="1.7600000000000002" fill="#f0b6c0"/></g>
<circle cx="572.8" cy="134.75" r="108.6" fill="#fff" stroke="#3a3a3a" stroke-width="1.1"/>
<path d="M509.4,79.8 V194.9 H656.4" stroke="#444" stroke-width="1.5" fill="none"/>
<line x1="507" y1="81.4" x2="509.4" y2="81.4" stroke="#333" stroke-width="0.8"/>
<text x="505" y="83.60000000000001" font-size="6.2" text-anchor="end" fill="#444">1000</text>
<line x1="507" y1="109.6" x2="509.4" y2="109.6" stroke="#333" stroke-width="0.8"/>
<text x="505" y="111.8" font-size="6.2" text-anchor="end" fill="#444">100</text>
<line x1="507" y1="137.8" x2="509.4" y2="137.8" stroke="#333" stroke-width="0.8"/>
<text x="505" y="140.0" font-size="6.2" text-anchor="end" fill="#444">10</text>
<line x1="507" y1="166" x2="509.4" y2="166" stroke="#333" stroke-width="0.8"/>
<text x="505" y="168.2" font-size="6.2" text-anchor="end" fill="#444">1</text>
<line x1="507" y1="194.9" x2="509.4" y2="194.9" stroke="#333" stroke-width="0.8"/>
<text x="505" y="197.1" font-size="6.2" text-anchor="end" fill="#444">0</text>
<line x1="510.4" y1="194.9" x2="510.4" y2="197.3" stroke="#333" stroke-width="0.8"/>
<text x="510.4" y="205.5" font-size="6.2" text-anchor="middle" fill="#444">0</text>
<line x1="541.6" y1="194.9" x2="541.6" y2="197.3" stroke="#333" stroke-width="0.8"/>
<text x="541.6" y="205.5" font-size="6.2" text-anchor="middle" fill="#444">1</text>
<line x1="573.2" y1="194.9" x2="573.2" y2="197.3" stroke="#333" stroke-width="0.8"/>
<text x="573.2" y="205.5" font-size="6.2" text-anchor="middle" fill="#444">2</text>
<line x1="605" y1="194.9" x2="605" y2="197.3" stroke="#333" stroke-width="0.8"/>
<text x="605" y="205.5" font-size="6.2" text-anchor="middle" fill="#444">3</text>
<line x1="636.6" y1="194.9" x2="636.6" y2="197.3" stroke="#333" stroke-width="0.8"/>
<text x="636.6" y="205.5" font-size="6.2" text-anchor="middle" fill="#444">4</text>
<path d="M515.7,187.6 C517.2,186.7 521.9,184.4 524.7,182.0 C527.5,179.6 529.9,177.2 532.4,173.4 C534.9,169.6 537.4,163.4 540.0,159.0 C542.6,154.6 544.9,151.1 548.0,147.0 C551.1,142.9 554.1,138.0 558.6,134.6 C563.1,131.2 568.9,128.5 575.0,126.5 C581.1,124.5 588.8,124.2 595.0,122.8 C601.2,121.4 606.3,120.5 612.1,118.1 C617.9,115.7 624.5,111.0 630.0,108.5 C635.5,106.0 642.8,104.0 645.4,103.1" stroke="#c0392f" stroke-width="2.6" fill="none" stroke-linecap="round"/>
<ellipse cx="619" cy="135.4" rx="10.9" ry="6.3" transform="rotate(30 619 135.4)" fill="#d0352a" />
<ellipse cx="619" cy="135.4" rx="5.995000000000001" ry="3.4650000000000003" transform="rotate(30 619 135.4)" fill="#ffffff" opacity="0.08"/>
<ellipse cx="605.9" cy="149.9" rx="10" ry="10" transform="rotate(0 605.9 149.9)" fill="#a8120f" />
<ellipse cx="605.9" cy="149.9" rx="5.5" ry="5.5" transform="rotate(0 605.9 149.9)" fill="#ffffff" opacity="0.08"/>
<ellipse cx="646.7" cy="141.1" rx="8.9" ry="10" transform="rotate(15 646.7 141.1)" fill="#b01a14" />
<ellipse cx="646.7" cy="141.1" rx="4.8950000000000005" ry="5.5" transform="rotate(15 646.7 141.1)" fill="#ffffff" opacity="0.08"/>
<ellipse cx="627.5" cy="155.2" rx="10.5" ry="7.4" transform="rotate(0 627.5 155.2)" fill="#c22a1f" />
<ellipse cx="627.5" cy="155.2" rx="5.775" ry="4.07" transform="rotate(0 627.5 155.2)" fill="#ffffff" opacity="0.08"/>
<ellipse cx="603.3" cy="169.7" rx="11.4" ry="5.7" transform="rotate(-15 603.3 169.7)" fill="#d33a2c" />
<ellipse cx="603.3" cy="169.7" rx="6.2700000000000005" ry="3.1350000000000002" transform="rotate(-15 603.3 169.7)" fill="#ffffff" opacity="0.08"/>
<ellipse cx="622.5" cy="177.4" rx="10" ry="10" transform="rotate(0 622.5 177.4)" fill="#a10f0c" />
<ellipse cx="622.5" cy="177.4" rx="5.5" ry="5.5" transform="rotate(0 622.5 177.4)" fill="#ffffff" opacity="0.08"/>
<ellipse cx="643.3" cy="171.1" rx="5.5" ry="11.4" transform="rotate(-10 643.3 171.1)" fill="#d23a2a" />
<ellipse cx="643.3" cy="171.1" rx="3.0250000000000004" ry="6.2700000000000005" transform="rotate(-10 643.3 171.1)" fill="#ffffff" opacity="0.08"/>
<path d="M128.6,166.6 C127.9,166.2 125.5,165.3 124.3,164.4 C123.1,163.5 122.7,161.5 121.4,160.9 C120.1,160.3 118.0,160.7 116.4,160.9 C114.9,161.1 112.9,162.8 112.1,162.3 C111.3,161.8 111.3,159.2 111.4,158.0 C111.5,156.8 113.1,155.9 112.9,155.1 C112.7,154.3 110.5,153.7 110.0,153.4" stroke="#bba398" stroke-width="0.8" fill="none" stroke-linecap="round" stroke-linejoin="round"/>
<path d="M132,166 Q140,158.5 147.6,165.5" stroke="#e5896b" stroke-width="7.2" fill="none" stroke-linecap="round"/>
<path d="M117.9,190.9 C118.5,191.0 120.6,191.1 121.4,191.6 C122.2,192.1 122.4,193.2 123.0,194.0 C123.6,194.8 124.3,195.7 125.0,196.6 C125.7,197.5 126.3,198.6 127.0,199.5 C127.7,200.4 128.9,201.8 129.3,202.3" stroke="#dcc690" stroke-width="0.8" fill="none" stroke-linecap="round" stroke-linejoin="round"/>
<line x1="104.2" y1="178" x2="115.8" y2="188.6" stroke="#c58c2a" stroke-width="7.0" stroke-linecap="round"/><line x1="104.2" y1="178" x2="115.8" y2="188.6" stroke="#d89a22" stroke-width="6.2" stroke-linecap="round"/>
<path d="M172.5,201.5 C172.3,201.3 171.6,200.9 171.1,200.6 C170.6,200.3 170.2,200.0 169.7,199.8 C169.2,199.6 168.7,199.4 168.1,199.3 C167.6,199.2 167.1,199.1 166.5,199.1 C166.0,199.1 165.4,199.1 164.9,199.1 C164.3,199.1 163.7,199.2 163.2,199.2 C162.6,199.2 162.1,199.2 161.5,199.1 C161.0,199.1 160.5,199.0 160.0,198.8 C159.4,198.7 158.9,198.5 158.5,198.2 C158.0,198.0 157.5,197.7 157.0,197.4 C156.6,197.1 156.1,196.8 155.6,196.5 C155.2,196.1 154.7,195.8 154.2,195.6 C153.7,195.3 153.3,195.1 152.8,194.9 C152.3,194.7 151.7,194.6 151.2,194.5 C150.7,194.4 150.1,194.4 149.6,194.4 C149.0,194.3 148.2,194.4 147.9,194.4" stroke="#d6abab" stroke-width="0.75" fill="none" stroke-linecap="round"/><path d="M172.5,201.5 C172.5,201.3 172.4,200.6 172.3,200.2 C172.2,199.8 172.1,199.4 171.9,199.0 C171.7,198.6 171.5,198.3 171.3,198.0 C171.1,197.6 170.8,197.3 170.4,197.1 C170.1,196.8 169.8,196.5 169.4,196.3 C169.0,196.0 168.7,195.8 168.3,195.5 C168.0,195.3 167.6,195.0 167.3,194.7 C167.0,194.4 166.8,194.1 166.5,193.8 C166.3,193.4 166.2,193.1 166.0,192.7 C165.9,192.3 165.8,191.9 165.7,191.4 C165.6,191.0 165.6,190.6 165.5,190.1 C165.4,189.7 165.4,189.3 165.2,188.9 C165.1,188.5 165.0,188.1 164.8,187.7 C164.6,187.3 164.4,187.0 164.1,186.7 C163.8,186.4 163.5,186.1 163.2,185.9 C162.8,185.6 162.3,185.2 162.1,185.1" stroke="#d6abab" stroke-width="0.75" fill="none" stroke-linecap="round"/><path d="M172.5,201.5 C172.6,201.4 172.9,201.0 173.1,200.7 C173.2,200.4 173.4,200.2 173.5,199.9 C173.6,199.6 173.6,199.3 173.6,199.0 C173.6,198.8 173.5,198.5 173.4,198.2 C173.3,197.9 173.2,197.6 173.0,197.3 C172.9,197.0 172.7,196.7 172.6,196.4 C172.4,196.1 172.3,195.8 172.2,195.5 C172.2,195.2 172.1,195.0 172.2,194.7 C172.2,194.4 172.3,194.1 172.4,193.8 C172.5,193.6 172.7,193.3 172.8,193.0 C173.0,192.8 173.2,192.5 173.4,192.2 C173.6,192.0 173.8,191.7 174.0,191.4 C174.1,191.2 174.2,190.9 174.3,190.6 C174.3,190.3 174.3,190.0 174.3,189.8 C174.3,189.5 174.1,189.2 174.0,188.9 C173.9,188.6 173.7,188.1 173.6,188.0" stroke="#d6abab" stroke-width="0.75" fill="none" stroke-linecap="round"/><path d="M172.5,201.5 C172.7,201.5 173.3,201.5 173.7,201.4 C174.1,201.4 174.5,201.3 174.8,201.2 C175.2,201.0 175.5,200.9 175.8,200.7 C176.1,200.5 176.4,200.2 176.7,199.9 C176.9,199.7 177.2,199.3 177.4,199.0 C177.6,198.7 177.9,198.3 178.1,198.0 C178.4,197.7 178.6,197.4 178.9,197.1 C179.2,196.9 179.4,196.6 179.8,196.5 C180.1,196.3 180.4,196.2 180.8,196.1 C181.2,196.0 181.6,195.9 182.0,195.9 C182.4,195.8 182.8,195.8 183.2,195.8 C183.6,195.8 184.0,195.8 184.4,195.7 C184.7,195.6 185.1,195.5 185.4,195.4 C185.8,195.2 186.1,195.0 186.4,194.8 C186.7,194.6 186.9,194.3 187.2,194.0 C187.4,193.7 187.8,193.2 187.9,193.0" stroke="#d6abab" stroke-width="0.75" fill="none" stroke-linecap="round"/><path d="M172.5,201.5 C172.7,201.6 173.3,202.0 173.7,202.3 C174.1,202.5 174.5,202.7 175.0,202.9 C175.4,203.0 175.8,203.1 176.3,203.2 C176.7,203.2 177.2,203.2 177.6,203.2 C178.1,203.2 178.6,203.1 179.1,203.0 C179.5,203.0 180.0,202.9 180.5,202.8 C181.0,202.8 181.4,202.7 181.9,202.7 C182.3,202.7 182.8,202.7 183.2,202.8 C183.7,202.9 184.1,203.1 184.5,203.2 C184.9,203.4 185.3,203.7 185.8,203.9 C186.2,204.2 186.6,204.4 187.0,204.7 C187.4,204.9 187.8,205.2 188.2,205.4 C188.6,205.6 189.0,205.8 189.5,205.9 C189.9,206.1 190.3,206.1 190.8,206.2 C191.2,206.2 191.7,206.2 192.2,206.1 C192.6,206.1 193.4,205.9 193.6,205.9" stroke="#d6abab" stroke-width="0.75" fill="none" stroke-linecap="round"/><path d="M172.5,201.5 C172.5,201.7 172.6,202.2 172.6,202.5 C172.7,202.8 172.7,203.1 172.9,203.4 C173.0,203.6 173.1,203.9 173.3,204.1 C173.5,204.3 173.8,204.4 174.0,204.6 C174.3,204.7 174.6,204.9 174.9,205.0 C175.2,205.1 175.6,205.2 175.8,205.3 C176.1,205.5 176.4,205.6 176.7,205.8 C176.9,205.9 177.1,206.1 177.3,206.4 C177.5,206.6 177.6,206.8 177.7,207.1 C177.8,207.4 177.9,207.7 177.9,208.0 C177.9,208.4 178.0,208.7 178.0,209.0 C178.0,209.4 178.1,209.7 178.1,210.0 C178.2,210.3 178.3,210.6 178.5,210.8 C178.6,211.1 178.8,211.3 179.0,211.5 C179.2,211.6 179.5,211.8 179.8,211.9 C180.1,212.1 180.5,212.2 180.7,212.3" stroke="#d6abab" stroke-width="0.75" fill="none" stroke-linecap="round"/><path d="M172.5,201.5 C172.4,201.6 172.1,201.9 172.0,202.2 C171.8,202.4 171.7,202.6 171.6,202.8 C171.5,203.1 171.5,203.3 171.5,203.5 C171.5,203.8 171.6,204.0 171.7,204.2 C171.8,204.5 172.0,204.7 172.2,204.9 C172.3,205.2 172.5,205.4 172.7,205.6 C172.8,205.9 172.9,206.1 173.0,206.3 C173.1,206.6 173.2,206.8 173.1,207.0 C173.1,207.3 173.1,207.5 173.0,207.7 C172.9,207.9 172.7,208.2 172.5,208.4 C172.4,208.6 172.2,208.8 172.0,209.1 C171.8,209.3 171.6,209.5 171.5,209.7 C171.4,209.9 171.3,210.2 171.2,210.4 C171.2,210.6 171.2,210.9 171.2,211.1 C171.3,211.3 171.4,211.6 171.5,211.8 C171.7,212.0 171.9,212.4 172.0,212.5" stroke="#d6abab" stroke-width="0.75" fill="none" stroke-linecap="round"/><path d="M172.5,201.5 C172.4,201.6 171.9,201.8 171.6,202.0 C171.3,202.2 171.1,202.4 170.9,202.6 C170.6,202.8 170.5,203.1 170.3,203.3 C170.2,203.6 170.1,203.9 170.1,204.2 C170.0,204.5 170.0,204.9 170.0,205.2 C170.0,205.6 170.0,205.9 170.0,206.3 C170.0,206.6 169.9,206.9 169.9,207.2 C169.8,207.5 169.7,207.8 169.5,208.1 C169.4,208.3 169.2,208.5 168.9,208.8 C168.7,209.0 168.4,209.1 168.1,209.3 C167.8,209.5 167.5,209.6 167.2,209.8 C166.9,210.0 166.6,210.1 166.3,210.3 C166.1,210.5 165.8,210.7 165.7,211.0 C165.5,211.2 165.3,211.5 165.2,211.7 C165.1,212.0 165.1,212.3 165.0,212.7 C165.0,213.0 165.0,213.5 165.0,213.7" stroke="#d6abab" stroke-width="0.75" fill="none" stroke-linecap="round"/><path d="M172.5,201.5 C172.3,201.5 171.6,201.4 171.1,201.3 C170.6,201.3 170.2,201.3 169.7,201.3 C169.3,201.4 168.9,201.5 168.4,201.6 C168.0,201.7 167.6,201.9 167.2,202.2 C166.8,202.4 166.4,202.7 166.1,202.9 C165.7,203.2 165.3,203.5 164.9,203.7 C164.5,204.0 164.1,204.3 163.7,204.5 C163.3,204.7 162.9,204.8 162.5,204.9 C162.0,205.0 161.6,205.1 161.1,205.1 C160.7,205.1 160.2,205.1 159.8,205.0 C159.3,205.0 158.8,204.9 158.4,204.8 C157.9,204.8 157.4,204.7 157.0,204.7 C156.5,204.7 156.1,204.7 155.6,204.8 C155.2,204.9 154.8,205.0 154.4,205.2 C154.0,205.3 153.6,205.6 153.2,205.8 C152.8,206.0 152.2,206.5 152.0,206.6" stroke="#d6abab" stroke-width="0.75" fill="none" stroke-linecap="round"/><path d="M172.5,201.5 C172.7,201.4 173.3,201.3 173.7,201.1 C174.0,201.0 174.4,200.8 174.7,200.6 C175.1,200.4 175.4,200.2 175.6,199.9 C175.9,199.6 176.1,199.3 176.3,199.0 C176.5,198.6 176.7,198.3 176.8,197.9 C177.0,197.5 177.2,197.1 177.3,196.7 C177.5,196.4 177.7,196.0 177.9,195.7 C178.1,195.4 178.4,195.1 178.7,194.8 C178.9,194.6 179.3,194.4 179.6,194.2 C179.9,194.0 180.3,193.9 180.7,193.7 C181.1,193.6 181.5,193.5 181.9,193.4 C182.3,193.3 182.7,193.1 183.0,193.0 C183.4,192.8 183.8,192.6 184.1,192.4 C184.4,192.2 184.6,191.9 184.9,191.6 C185.1,191.3 185.3,191.0 185.5,190.6 C185.7,190.3 185.9,189.7 186.0,189.5" stroke="#d6abab" stroke-width="0.75" fill="none" stroke-linecap="round"/>
<line x1="165" y1="199" x2="180" y2="204" stroke="#c07c84" stroke-width="6.3999999999999995" stroke-linecap="round"/><line x1="165" y1="199" x2="180" y2="204" stroke="#cb8a90" stroke-width="5.6" stroke-linecap="round"/>
<path d="M96.4,229.3 C95.8,229.5 94.0,230.3 93.0,230.5 C92.0,230.7 91.7,230.9 90.7,230.7 C89.7,230.5 88.0,229.8 87.0,229.5 C86.0,229.2 85.8,228.9 85.0,228.6 C84.2,228.3 83.0,228.0 82.0,227.8 C81.0,227.6 79.8,227.6 79.3,227.6" stroke="#e6d3a8" stroke-width="0.8" fill="none" stroke-linecap="round" stroke-linejoin="round"/>
<line x1="98.5" y1="229" x2="115" y2="229" stroke="#d19a3a" stroke-width="7.2" stroke-linecap="round"/><line x1="98.5" y1="229" x2="115" y2="229" stroke="#dda43a" stroke-width="6.4" stroke-linecap="round"/>
<path d="M146.4,225.7 C146.9,224.9 148.5,222.4 149.3,220.7 C150.1,219.0 151.1,216.5 151.4,215.7" stroke="#e8cc7a" stroke-width="1.6" fill="none" stroke-linecap="round" stroke-linejoin="round"/>
<path d="M125.0,262.1 C125.1,261.0 124.5,257.2 125.7,255.7 C126.9,254.2 130.5,254.2 132.1,252.9 C133.7,251.6 134.6,249.6 135.0,247.9 C135.4,246.2 133.6,244.2 134.3,242.9 C135.0,241.6 137.6,241.0 139.3,240.0 C141.0,239.0 143.5,238.4 144.3,237.1 C145.1,235.8 144.0,234.0 144.3,232.1 C144.7,230.2 146.1,226.8 146.4,225.7" stroke="#e0b23a" stroke-width="3.2" fill="none" stroke-linecap="round" stroke-linejoin="round"/>
<path d="M102.0,275.8 C102.0,275.5 101.8,274.5 101.7,273.8 C101.6,273.2 101.4,272.6 101.2,272.0 C101.0,271.3 100.8,270.8 100.5,270.2 C100.1,269.7 99.8,269.2 99.3,268.7 C98.9,268.2 98.5,267.7 98.0,267.2 C97.5,266.7 97.0,266.3 96.6,265.8 C96.1,265.3 95.7,264.8 95.3,264.3 C94.9,263.8 94.6,263.3 94.3,262.7 C94.0,262.1 93.8,261.5 93.6,260.9 C93.5,260.3 93.4,259.6 93.2,259.0 C93.1,258.3 93.1,257.7 93.0,257.0 C92.9,256.4 92.8,255.7 92.6,255.1 C92.5,254.4 92.3,253.8 92.1,253.2 C91.8,252.6 91.5,252.1 91.2,251.6 C90.8,251.0 90.4,250.5 90.0,250.0 C89.6,249.5 88.8,248.8 88.6,248.6" stroke="#a8845f" stroke-width="0.8" fill="none" stroke-linecap="round"/><path d="M102.0,275.8 C102.1,275.6 102.4,274.9 102.6,274.4 C102.7,273.9 102.9,273.5 102.9,273.0 C103.0,272.5 103.0,272.1 103.0,271.6 C102.9,271.1 102.8,270.7 102.6,270.2 C102.5,269.8 102.2,269.3 102.0,268.9 C101.8,268.4 101.6,267.9 101.4,267.5 C101.2,267.0 100.9,266.6 100.8,266.1 C100.7,265.7 100.6,265.2 100.6,264.7 C100.6,264.3 100.6,263.8 100.7,263.3 C100.8,262.9 101.0,262.4 101.2,261.9 C101.4,261.5 101.6,261.0 101.8,260.5 C102.0,260.1 102.2,259.6 102.3,259.1 C102.5,258.7 102.6,258.2 102.6,257.7 C102.6,257.3 102.6,256.8 102.5,256.3 C102.4,255.9 102.2,255.4 102.0,255.0 C101.9,254.5 101.5,253.8 101.4,253.6" stroke="#a8845f" stroke-width="0.8" fill="none" stroke-linecap="round"/><path d="M102.0,275.8 C102.2,275.6 102.7,275.0 103.0,274.6 C103.3,274.2 103.7,273.8 103.9,273.3 C104.1,272.9 104.3,272.4 104.4,272.0 C104.5,271.5 104.5,271.0 104.6,270.5 C104.6,270.0 104.5,269.5 104.5,268.9 C104.4,268.4 104.4,267.9 104.3,267.3 C104.3,266.8 104.3,266.3 104.3,265.8 C104.4,265.3 104.5,264.8 104.6,264.4 C104.8,263.9 105.0,263.5 105.2,263.0 C105.5,262.6 105.8,262.2 106.2,261.8 C106.5,261.4 106.9,261.0 107.2,260.6 C107.6,260.2 107.9,259.8 108.2,259.4 C108.5,259.0 108.8,258.5 109.0,258.1 C109.1,257.6 109.3,257.2 109.4,256.7 C109.4,256.2 109.4,255.7 109.4,255.2 C109.4,254.7 109.3,253.9 109.3,253.6" stroke="#a8845f" stroke-width="0.8" fill="none" stroke-linecap="round"/><path d="M102.0,275.8 C101.8,275.6 101.3,275.0 101.0,274.7 C100.6,274.4 100.2,274.0 99.8,273.8 C99.4,273.5 99.0,273.3 98.6,273.2 C98.1,273.0 97.6,273.0 97.2,272.9 C96.7,272.9 96.2,272.9 95.6,272.9 C95.1,272.9 94.6,272.9 94.1,272.9 C93.6,272.9 93.1,272.9 92.6,272.8 C92.2,272.8 91.7,272.6 91.3,272.5 C90.8,272.3 90.4,272.0 90.1,271.7 C89.7,271.5 89.3,271.1 89.0,270.8 C88.6,270.4 88.3,270.0 87.9,269.6 C87.6,269.3 87.2,268.9 86.9,268.6 C86.5,268.2 86.1,268.0 85.7,267.7 C85.3,267.5 84.8,267.4 84.4,267.3 C83.9,267.1 83.4,267.1 82.9,267.1 C82.4,267.1 81.7,267.1 81.4,267.1" stroke="#a8845f" stroke-width="0.8" fill="none" stroke-linecap="round"/><path d="M102.0,275.8 C102.2,275.8 102.7,276.0 103.1,276.1 C103.5,276.1 103.8,276.2 104.1,276.1 C104.5,276.1 104.8,276.0 105.1,275.9 C105.3,275.7 105.6,275.5 105.9,275.3 C106.1,275.0 106.3,274.7 106.6,274.4 C106.8,274.1 107.0,273.8 107.3,273.5 C107.5,273.2 107.7,272.9 108.0,272.7 C108.3,272.5 108.5,272.3 108.8,272.2 C109.1,272.1 109.5,272.1 109.8,272.1 C110.1,272.1 110.5,272.1 110.9,272.2 C111.2,272.3 111.6,272.4 112.0,272.5 C112.3,272.6 112.7,272.7 113.1,272.7 C113.4,272.7 113.7,272.7 114.1,272.7 C114.4,272.6 114.7,272.5 114.9,272.3 C115.2,272.1 115.5,271.9 115.7,271.6 C115.9,271.3 116.3,270.8 116.4,270.7" stroke="#a8845f" stroke-width="0.8" fill="none" stroke-linecap="round"/><path d="M102.0,275.8 C101.8,275.7 101.3,275.5 100.9,275.4 C100.5,275.3 100.2,275.2 99.8,275.2 C99.5,275.2 99.2,275.3 98.8,275.4 C98.5,275.5 98.2,275.7 97.9,275.9 C97.6,276.1 97.4,276.4 97.1,276.7 C96.8,277.0 96.5,277.3 96.2,277.5 C96.0,277.8 95.7,278.0 95.4,278.2 C95.1,278.4 94.8,278.6 94.4,278.6 C94.1,278.7 93.8,278.7 93.4,278.7 C93.1,278.6 92.7,278.5 92.3,278.4 C92.0,278.3 91.6,278.1 91.2,278.0 C90.9,277.9 90.5,277.7 90.1,277.7 C89.8,277.6 89.4,277.6 89.1,277.6 C88.8,277.6 88.4,277.7 88.1,277.9 C87.8,278.0 87.5,278.2 87.2,278.5 C87.0,278.7 86.5,279.2 86.4,279.3" stroke="#a8845f" stroke-width="0.8" fill="none" stroke-linecap="round"/><path d="M102.0,275.8 C102.2,276.0 102.6,276.5 102.9,276.9 C103.3,277.2 103.6,277.5 103.9,277.7 C104.3,277.9 104.7,278.1 105.1,278.3 C105.5,278.4 105.9,278.4 106.4,278.5 C106.8,278.5 107.3,278.5 107.8,278.4 C108.2,278.4 108.7,278.3 109.2,278.3 C109.6,278.3 110.1,278.3 110.5,278.4 C111.0,278.4 111.4,278.5 111.8,278.7 C112.2,278.8 112.5,279.1 112.9,279.3 C113.2,279.6 113.5,280.0 113.8,280.3 C114.2,280.6 114.5,281.0 114.8,281.4 C115.1,281.7 115.4,282.1 115.7,282.4 C116.1,282.7 116.4,282.9 116.8,283.1 C117.2,283.3 117.6,283.5 118.0,283.6 C118.4,283.7 118.8,283.7 119.3,283.7 C119.8,283.7 120.5,283.6 120.7,283.6" stroke="#a8845f" stroke-width="0.8" fill="none" stroke-linecap="round"/><path d="M102.0,275.8 C101.8,275.9 101.2,276.1 100.9,276.3 C100.5,276.4 100.2,276.6 99.9,276.9 C99.6,277.1 99.4,277.4 99.2,277.7 C99.0,278.0 98.8,278.3 98.7,278.7 C98.6,279.1 98.6,279.5 98.5,279.9 C98.5,280.3 98.4,280.7 98.4,281.1 C98.3,281.5 98.2,281.9 98.1,282.3 C98.0,282.6 97.8,282.9 97.6,283.2 C97.3,283.5 97.1,283.7 96.8,284.0 C96.4,284.2 96.1,284.3 95.7,284.5 C95.3,284.7 94.9,284.8 94.5,284.9 C94.2,285.1 93.8,285.3 93.4,285.4 C93.1,285.6 92.8,285.8 92.5,286.1 C92.3,286.4 92.1,286.7 91.9,287.0 C91.8,287.3 91.7,287.7 91.6,288.1 C91.5,288.5 91.4,289.1 91.4,289.3" stroke="#a8845f" stroke-width="0.8" fill="none" stroke-linecap="round"/><path d="M102.0,275.8 C101.9,276.0 101.5,276.6 101.3,277.0 C101.1,277.3 100.9,277.7 100.8,278.1 C100.7,278.5 100.7,278.9 100.7,279.3 C100.7,279.7 100.8,280.1 100.9,280.5 C101.0,281.0 101.2,281.4 101.4,281.8 C101.6,282.2 101.8,282.6 101.9,283.0 C102.1,283.4 102.3,283.9 102.3,284.3 C102.4,284.7 102.5,285.1 102.4,285.5 C102.4,285.9 102.3,286.3 102.2,286.7 C102.0,287.1 101.8,287.4 101.6,287.8 C101.4,288.2 101.1,288.6 100.9,289.0 C100.7,289.4 100.4,289.8 100.2,290.1 C100.1,290.5 99.9,290.9 99.9,291.3 C99.8,291.7 99.8,292.1 99.8,292.5 C99.9,292.9 100.0,293.3 100.2,293.8 C100.3,294.2 100.6,294.8 100.7,295.0" stroke="#a8845f" stroke-width="0.8" fill="none" stroke-linecap="round"/><path d="M102.0,275.8 C102.0,276.0 102.0,276.8 102.1,277.2 C102.2,277.7 102.2,278.1 102.4,278.5 C102.5,278.9 102.7,279.3 103.0,279.7 C103.2,280.0 103.5,280.3 103.8,280.6 C104.2,280.9 104.6,281.2 105.0,281.5 C105.4,281.7 105.8,282.0 106.2,282.3 C106.5,282.5 106.9,282.8 107.2,283.1 C107.5,283.5 107.8,283.8 108.0,284.2 C108.2,284.5 108.4,284.9 108.5,285.4 C108.6,285.8 108.6,286.3 108.7,286.7 C108.7,287.2 108.7,287.7 108.8,288.1 C108.8,288.6 108.8,289.1 108.9,289.5 C109.0,290.0 109.1,290.4 109.3,290.8 C109.4,291.2 109.7,291.5 110.0,291.9 C110.2,292.2 110.6,292.5 110.9,292.8 C111.3,293.1 111.9,293.5 112.1,293.6" stroke="#a8845f" stroke-width="0.8" fill="none" stroke-linecap="round"/>
<line x1="97.3" y1="268.3" x2="106.8" y2="283.2" stroke="#a55e12" stroke-width="7.8" stroke-linecap="round"/><line x1="97.3" y1="268.3" x2="106.8" y2="283.2" stroke="#bb6a0c" stroke-width="7" stroke-linecap="round"/>
<path d="M258.3,114.4 C257.5,114.9 255.4,116.8 253.6,117.5 C251.8,118.2 248.6,117.1 247.3,118.3 C246.0,119.5 246.8,123.7 245.7,124.6 C244.6,125.5 242.6,124.3 241.0,123.8 C239.4,123.3 237.1,121.8 236.3,121.4" stroke="#cdcdcd" stroke-width="0.8" fill="none" stroke-linecap="round" stroke-linejoin="round"/>
<path d="M268.2,101.5 Q260.5,104.5 259.4,111.5" stroke="#bcbcbc" stroke-width="6.3" fill="none" stroke-linecap="round"/>
<path d="M312.0,104.3 C311.8,104.2 311.2,103.8 310.8,103.7 C310.4,103.5 310.0,103.3 309.6,103.2 C309.2,103.1 308.8,103.0 308.4,103.0 C307.9,103.0 307.5,103.0 307.1,103.1 C306.6,103.2 306.2,103.3 305.8,103.4 C305.3,103.5 304.9,103.7 304.5,103.8 C304.0,103.9 303.6,104.0 303.2,104.0 C302.7,104.1 302.3,104.1 301.9,104.0 C301.5,104.0 301.1,103.9 300.7,103.7 C300.3,103.6 299.9,103.4 299.5,103.2 C299.1,103.0 298.7,102.8 298.3,102.5 C297.9,102.3 297.5,102.1 297.1,101.9 C296.7,101.8 296.3,101.6 295.9,101.6 C295.4,101.5 295.0,101.4 294.6,101.5 C294.2,101.5 293.7,101.6 293.3,101.6 C292.9,101.7 292.2,101.9 292.0,102.0" stroke="#d9d9d9" stroke-width="0.8" fill="none" stroke-linecap="round"/><path d="M312.0,104.3 C312.0,104.1 311.8,103.6 311.7,103.3 C311.6,103.0 311.5,102.7 311.3,102.4 C311.2,102.2 311.0,101.9 310.8,101.8 C310.5,101.6 310.2,101.4 310.0,101.3 C309.7,101.1 309.3,101.1 309.0,101.0 C308.7,100.9 308.3,100.8 308.0,100.7 C307.7,100.6 307.4,100.5 307.1,100.3 C306.8,100.2 306.6,100.0 306.4,99.8 C306.1,99.6 306.0,99.3 305.8,99.0 C305.7,98.7 305.6,98.4 305.5,98.1 C305.4,97.8 305.3,97.4 305.3,97.1 C305.2,96.8 305.1,96.4 305.0,96.1 C304.8,95.8 304.7,95.6 304.5,95.3 C304.3,95.1 304.1,94.9 303.8,94.7 C303.6,94.5 303.3,94.4 303.0,94.3 C302.7,94.2 302.2,94.0 302.0,94.0" stroke="#d9d9d9" stroke-width="0.8" fill="none" stroke-linecap="round"/><path d="M312.0,104.3 C312.1,104.1 312.3,103.6 312.4,103.2 C312.5,102.9 312.6,102.5 312.6,102.2 C312.6,101.8 312.6,101.5 312.5,101.1 C312.4,100.8 312.3,100.5 312.1,100.1 C312.0,99.8 311.8,99.5 311.5,99.2 C311.3,98.9 311.1,98.6 310.9,98.2 C310.7,97.9 310.5,97.6 310.4,97.3 C310.2,96.9 310.1,96.6 310.1,96.3 C310.1,95.9 310.1,95.6 310.1,95.2 C310.2,94.9 310.3,94.5 310.4,94.2 C310.5,93.8 310.7,93.4 310.8,93.1 C310.9,92.7 311.1,92.4 311.1,92.0 C311.2,91.6 311.3,91.3 311.3,90.9 C311.2,90.6 311.2,90.3 311.1,89.9 C311.0,89.6 310.8,89.3 310.6,89.0 C310.4,88.6 310.1,88.2 310.0,88.0" stroke="#d9d9d9" stroke-width="0.8" fill="none" stroke-linecap="round"/><path d="M312.0,104.3 C312.2,104.2 312.7,103.8 313.0,103.6 C313.3,103.3 313.6,103.1 313.8,102.8 C314.1,102.5 314.3,102.2 314.4,101.9 C314.6,101.5 314.7,101.2 314.8,100.8 C314.9,100.4 314.9,100.0 315.0,99.6 C315.0,99.2 315.0,98.8 315.1,98.4 C315.1,98.0 315.2,97.6 315.3,97.2 C315.4,96.9 315.5,96.5 315.7,96.2 C315.9,95.9 316.2,95.6 316.4,95.3 C316.7,95.0 317.0,94.8 317.3,94.6 C317.6,94.3 318.0,94.1 318.3,93.9 C318.7,93.6 319.0,93.4 319.3,93.1 C319.6,92.9 319.9,92.6 320.1,92.3 C320.3,92.0 320.5,91.7 320.6,91.3 C320.7,91.0 320.8,90.6 320.9,90.2 C320.9,89.8 321.0,89.2 321.0,89.0" stroke="#d9d9d9" stroke-width="0.8" fill="none" stroke-linecap="round"/><path d="M312.0,104.3 C312.3,104.2 313.1,104.1 313.6,103.9 C314.1,103.7 314.6,103.6 315.1,103.3 C315.5,103.1 316.0,102.9 316.4,102.6 C316.8,102.2 317.2,101.9 317.6,101.5 C318.0,101.1 318.3,100.7 318.7,100.3 C319.0,99.9 319.3,99.4 319.7,99.0 C320.0,98.6 320.4,98.2 320.8,97.8 C321.2,97.5 321.6,97.2 322.0,96.9 C322.5,96.6 322.9,96.4 323.4,96.2 C323.9,96.0 324.4,95.8 324.9,95.7 C325.5,95.5 326.0,95.4 326.5,95.3 C327.1,95.2 327.6,95.0 328.1,94.9 C328.6,94.7 329.1,94.5 329.5,94.2 C330.0,94.0 330.4,93.7 330.8,93.4 C331.2,93.0 331.6,92.6 332.0,92.3 C332.3,91.9 332.8,91.2 333.0,91.0" stroke="#d9d9d9" stroke-width="0.8" fill="none" stroke-linecap="round"/><path d="M312.0,104.3 C312.2,104.4 312.8,104.7 313.1,104.9 C313.5,105.1 313.9,105.2 314.3,105.3 C314.7,105.4 315.1,105.5 315.5,105.5 C315.9,105.5 316.3,105.4 316.7,105.4 C317.1,105.3 317.5,105.1 317.9,105.0 C318.3,104.9 318.7,104.7 319.2,104.6 C319.6,104.5 320.0,104.4 320.4,104.3 C320.8,104.2 321.2,104.2 321.6,104.3 C322.0,104.3 322.4,104.4 322.8,104.5 C323.1,104.6 323.5,104.8 323.9,105.0 C324.3,105.2 324.7,105.4 325.0,105.6 C325.4,105.8 325.8,106.1 326.2,106.2 C326.6,106.4 327.0,106.5 327.4,106.6 C327.8,106.6 328.1,106.6 328.6,106.6 C329.0,106.6 329.4,106.5 329.8,106.4 C330.2,106.3 330.8,106.1 331.0,106.0" stroke="#d9d9d9" stroke-width="0.8" fill="none" stroke-linecap="round"/><path d="M312.0,104.3 C312.0,104.4 312.1,104.9 312.1,105.2 C312.2,105.5 312.3,105.7 312.4,106.0 C312.5,106.2 312.7,106.4 312.9,106.5 C313.0,106.7 313.3,106.8 313.5,106.9 C313.8,107.0 314.1,107.1 314.4,107.1 C314.7,107.2 315.0,107.3 315.3,107.3 C315.5,107.4 315.8,107.5 316.1,107.6 C316.3,107.7 316.5,107.9 316.7,108.0 C316.8,108.2 317.0,108.4 317.1,108.7 C317.1,108.9 317.2,109.2 317.3,109.5 C317.3,109.8 317.3,110.1 317.4,110.4 C317.4,110.7 317.5,111.0 317.5,111.3 C317.6,111.5 317.7,111.8 317.9,112.0 C318.0,112.2 318.2,112.3 318.4,112.5 C318.6,112.6 318.9,112.7 319.1,112.8 C319.4,112.9 319.9,113.0 320.0,113.0" stroke="#d9d9d9" stroke-width="0.8" fill="none" stroke-linecap="round"/><path d="M312.0,104.3 C311.9,104.4 311.6,104.9 311.5,105.2 C311.4,105.4 311.2,105.7 311.2,106.0 C311.1,106.3 311.1,106.6 311.1,106.9 C311.1,107.2 311.2,107.4 311.4,107.7 C311.5,108.0 311.7,108.3 311.8,108.6 C312.0,108.9 312.2,109.2 312.3,109.4 C312.5,109.7 312.7,110.0 312.7,110.3 C312.8,110.6 312.9,110.9 312.9,111.2 C312.9,111.4 312.8,111.7 312.7,112.0 C312.7,112.3 312.5,112.6 312.3,112.9 C312.2,113.1 312.0,113.4 311.8,113.7 C311.7,114.0 311.5,114.3 311.4,114.6 C311.2,114.9 311.1,115.1 311.1,115.4 C311.1,115.7 311.1,116.0 311.2,116.3 C311.2,116.6 311.4,116.9 311.5,117.1 C311.6,117.4 311.9,117.9 312.0,118.0" stroke="#d9d9d9" stroke-width="0.8" fill="none" stroke-linecap="round"/><path d="M312.0,104.3 C311.8,104.5 311.3,104.9 311.0,105.2 C310.8,105.5 310.5,105.8 310.2,106.2 C310.0,106.5 309.8,106.9 309.7,107.3 C309.6,107.6 309.5,108.0 309.4,108.5 C309.4,108.9 309.4,109.3 309.3,109.8 C309.3,110.2 309.3,110.6 309.3,111.1 C309.3,111.5 309.3,111.9 309.2,112.4 C309.1,112.8 309.0,113.2 308.8,113.5 C308.7,113.9 308.4,114.2 308.2,114.6 C307.9,114.9 307.6,115.2 307.3,115.5 C307.0,115.8 306.7,116.1 306.3,116.4 C306.0,116.7 305.7,117.0 305.4,117.3 C305.1,117.6 304.9,118.0 304.7,118.3 C304.5,118.7 304.4,119.1 304.2,119.4 C304.1,119.8 304.1,120.3 304.0,120.7 C304.0,121.1 304.0,121.8 304.0,122.0" stroke="#d9d9d9" stroke-width="0.8" fill="none" stroke-linecap="round"/><path d="M312.0,104.3 C311.7,104.4 311.0,104.6 310.5,104.7 C310.0,104.9 309.5,105.1 309.0,105.3 C308.6,105.6 308.1,105.8 307.8,106.1 C307.4,106.5 307.0,106.8 306.6,107.2 C306.3,107.6 306.0,108.0 305.7,108.4 C305.3,108.9 305.0,109.3 304.7,109.7 C304.4,110.1 304.0,110.5 303.7,110.9 C303.3,111.3 302.9,111.6 302.5,111.9 C302.1,112.2 301.6,112.4 301.2,112.6 C300.7,112.8 300.2,113.0 299.7,113.1 C299.2,113.3 298.7,113.4 298.2,113.6 C297.6,113.7 297.1,113.9 296.6,114.0 C296.2,114.2 295.7,114.4 295.3,114.7 C294.8,115.0 294.4,115.3 294.0,115.6 C293.6,115.9 293.3,116.3 293.0,116.7 C292.6,117.1 292.2,117.8 292.0,118.0" stroke="#d9d9d9" stroke-width="0.8" fill="none" stroke-linecap="round"/>
<line x1="306" y1="107.5" x2="318.5" y2="100.8" stroke="#c6c6c6" stroke-width="6" stroke-linecap="round"/>
<path d="M268.5,139.5 C269.1,139.2 270.8,138.3 272.0,137.8 C273.2,137.3 274.6,136.5 275.6,136.4 C276.6,136.3 277.2,137.2 278.0,137.5 C278.8,137.8 279.0,137.9 280.3,138.0 C281.6,138.1 284.9,138.0 285.8,138.0" stroke="#a0a0a0" stroke-width="0.8" fill="none" stroke-linecap="round" stroke-linejoin="round"/>
<line x1="251" y1="141" x2="266.5" y2="138.8" stroke="#707070" stroke-width="7.2" stroke-linecap="round"/><line x1="251" y1="141" x2="266.5" y2="138.8" stroke="#7b7b7b" stroke-width="6.4" stroke-linecap="round"/>
<path d="M310.0,128.0 C310.2,129.0 311.0,132.2 311.5,134.0 C312.0,135.8 312.5,137.5 313.0,139.0 C313.5,140.5 314.2,142.3 314.5,143.0" stroke="#cccccc" stroke-width="1.4" fill="none" stroke-linecap="round" stroke-linejoin="round"/>
<path d="M314.5,143.0 C315.1,143.4 316.7,144.5 318.0,145.5 C319.3,146.5 322.0,147.1 322.5,149.0 C323.0,150.9 320.9,154.8 321.0,157.0 C321.1,159.2 321.8,160.5 323.0,162.0 C324.2,163.5 327.3,164.2 328.0,166.0 C328.7,167.8 326.7,171.0 327.0,173.0 C327.3,175.0 329.5,177.2 330.0,178.0" stroke="#a6a6a6" stroke-width="4" fill="none" stroke-linecap="round" stroke-linejoin="round"/>
<path d="M281.1,179.6 C281.0,180.4 281.2,183.0 280.3,184.3 C279.4,185.6 277.3,186.4 275.6,187.5 C273.9,188.6 271.0,190.1 270.1,190.6" stroke="#b8b8b8" stroke-width="0.8" fill="none" stroke-linecap="round" stroke-linejoin="round"/>
<line x1="293" y1="164.8" x2="284" y2="176.5" stroke="#a0a0a0" stroke-width="6.3" stroke-linecap="round"/>
<path d="M325.5,205.5 C325.2,205.3 324.4,204.8 323.8,204.6 C323.3,204.3 322.7,204.0 322.1,203.8 C321.6,203.6 321.0,203.4 320.4,203.3 C319.8,203.2 319.2,203.2 318.5,203.2 C317.9,203.2 317.3,203.2 316.6,203.3 C316.0,203.3 315.4,203.4 314.7,203.4 C314.1,203.5 313.5,203.5 312.8,203.5 C312.2,203.4 311.6,203.4 311.0,203.2 C310.4,203.1 309.9,202.9 309.3,202.7 C308.7,202.4 308.2,202.1 307.6,201.8 C307.0,201.5 306.5,201.2 305.9,200.8 C305.4,200.5 304.8,200.2 304.3,199.9 C303.7,199.7 303.1,199.4 302.6,199.3 C302.0,199.1 301.4,199.0 300.8,198.9 C300.2,198.8 299.5,198.8 298.9,198.9 C298.3,198.9 297.3,199.0 297.0,199.0" stroke="#c8c8c8" stroke-width="0.8" fill="none" stroke-linecap="round"/><path d="M325.5,205.5 C325.4,205.3 325.1,204.6 324.8,204.2 C324.6,203.8 324.3,203.4 324.0,203.1 C323.7,202.8 323.4,202.5 323.0,202.2 C322.7,202.0 322.2,201.8 321.8,201.6 C321.4,201.4 320.9,201.3 320.5,201.1 C320.0,201.0 319.5,200.9 319.1,200.7 C318.6,200.6 318.2,200.4 317.8,200.2 C317.3,200.0 317.0,199.8 316.6,199.5 C316.3,199.2 316.0,198.9 315.7,198.5 C315.4,198.2 315.2,197.8 314.9,197.4 C314.7,196.9 314.5,196.5 314.3,196.1 C314.1,195.6 313.8,195.2 313.6,194.8 C313.3,194.4 313.0,194.1 312.7,193.8 C312.4,193.5 312.0,193.2 311.6,193.0 C311.3,192.7 310.8,192.6 310.4,192.4 C309.9,192.3 309.2,192.1 309.0,192.0" stroke="#c8c8c8" stroke-width="0.8" fill="none" stroke-linecap="round"/><path d="M325.5,205.5 C325.5,205.2 325.4,204.5 325.3,204.0 C325.2,203.5 325.0,203.0 324.9,202.6 C324.7,202.2 324.5,201.7 324.2,201.3 C323.9,201.0 323.6,200.6 323.2,200.3 C322.9,199.9 322.5,199.6 322.1,199.3 C321.7,199.0 321.2,198.7 320.9,198.4 C320.5,198.1 320.1,197.7 319.8,197.4 C319.4,197.0 319.1,196.7 318.9,196.3 C318.6,195.9 318.5,195.4 318.3,195.0 C318.2,194.5 318.1,194.0 318.0,193.5 C317.9,193.0 317.8,192.5 317.8,192.0 C317.7,191.5 317.6,191.0 317.5,190.5 C317.4,190.0 317.2,189.6 317.0,189.2 C316.8,188.7 316.5,188.3 316.2,188.0 C315.9,187.6 315.6,187.3 315.2,186.9 C314.8,186.6 314.2,186.2 314.0,186.0" stroke="#c8c8c8" stroke-width="0.8" fill="none" stroke-linecap="round"/><path d="M325.5,205.5 C325.6,205.3 325.7,204.7 325.8,204.3 C325.9,203.9 326.0,203.5 326.0,203.1 C326.0,202.8 325.9,202.4 325.8,202.0 C325.7,201.7 325.5,201.3 325.3,201.0 C325.1,200.6 324.8,200.3 324.6,200.0 C324.3,199.7 324.1,199.3 323.8,199.0 C323.6,198.7 323.3,198.4 323.2,198.0 C323.0,197.7 322.8,197.3 322.8,196.9 C322.7,196.6 322.7,196.2 322.7,195.8 C322.7,195.4 322.8,195.0 322.9,194.6 C323.0,194.2 323.2,193.8 323.3,193.4 C323.4,193.0 323.5,192.6 323.6,192.2 C323.6,191.8 323.7,191.5 323.6,191.1 C323.6,190.7 323.5,190.4 323.3,190.0 C323.2,189.7 323.0,189.3 322.8,189.0 C322.5,188.7 322.1,188.2 322.0,188.0" stroke="#c8c8c8" stroke-width="0.8" fill="none" stroke-linecap="round"/><path d="M325.5,205.5 C325.6,205.4 326.1,205.0 326.4,204.8 C326.6,204.5 326.9,204.3 327.1,204.0 C327.2,203.7 327.4,203.4 327.4,203.1 C327.5,202.8 327.5,202.5 327.5,202.1 C327.5,201.8 327.5,201.4 327.4,201.0 C327.3,200.7 327.3,200.3 327.2,199.9 C327.2,199.6 327.1,199.2 327.1,198.9 C327.1,198.5 327.2,198.2 327.3,197.9 C327.4,197.6 327.6,197.3 327.8,197.0 C328.0,196.8 328.3,196.5 328.6,196.3 C328.9,196.1 329.2,195.8 329.5,195.6 C329.7,195.4 330.0,195.1 330.3,194.9 C330.5,194.6 330.7,194.4 330.9,194.1 C331.0,193.8 331.1,193.5 331.2,193.1 C331.2,192.8 331.2,192.5 331.2,192.1 C331.1,191.7 331.0,191.2 331.0,191.0" stroke="#c8c8c8" stroke-width="0.8" fill="none" stroke-linecap="round"/><path d="M325.5,205.5 C325.7,205.5 326.4,205.4 326.9,205.3 C327.3,205.2 327.8,205.1 328.2,205.0 C328.6,204.8 328.9,204.6 329.3,204.4 C329.6,204.1 329.9,203.8 330.2,203.5 C330.5,203.2 330.8,202.8 331.1,202.4 C331.3,202.0 331.6,201.6 331.9,201.2 C332.1,200.9 332.4,200.5 332.7,200.2 C333.0,199.9 333.4,199.6 333.7,199.4 C334.1,199.2 334.5,199.0 334.9,198.9 C335.3,198.8 335.8,198.7 336.2,198.6 C336.7,198.5 337.2,198.5 337.6,198.4 C338.1,198.4 338.6,198.3 339.0,198.2 C339.4,198.1 339.8,198.0 340.2,197.8 C340.6,197.6 341.0,197.4 341.3,197.1 C341.6,196.8 341.9,196.5 342.2,196.1 C342.5,195.8 342.9,195.2 343.0,195.0" stroke="#c8c8c8" stroke-width="0.8" fill="none" stroke-linecap="round"/><path d="M325.5,205.5 C325.7,205.7 326.4,206.2 326.9,206.5 C327.3,206.8 327.8,207.1 328.3,207.3 C328.8,207.5 329.3,207.7 329.8,207.8 C330.3,208.0 330.9,208.0 331.4,208.1 C332.0,208.1 332.5,208.0 333.1,208.0 C333.7,208.0 334.2,208.0 334.8,207.9 C335.4,207.9 335.9,207.9 336.5,208.0 C337.0,208.0 337.5,208.1 338.0,208.3 C338.6,208.5 339.0,208.7 339.5,208.9 C340.0,209.2 340.5,209.5 340.9,209.8 C341.4,210.1 341.8,210.5 342.3,210.8 C342.7,211.2 343.2,211.5 343.7,211.8 C344.1,212.1 344.6,212.3 345.1,212.5 C345.6,212.7 346.1,212.9 346.7,212.9 C347.2,213.0 347.8,213.1 348.3,213.1 C348.9,213.1 349.7,213.0 350.0,213.0" stroke="#c8c8c8" stroke-width="0.8" fill="none" stroke-linecap="round"/><path d="M325.5,205.5 C325.6,205.7 325.7,206.4 325.8,206.8 C326.0,207.2 326.1,207.7 326.3,208.0 C326.5,208.4 326.8,208.7 327.1,209.0 C327.4,209.3 327.7,209.6 328.1,209.8 C328.4,210.1 328.9,210.3 329.3,210.5 C329.7,210.7 330.1,210.9 330.5,211.1 C330.9,211.3 331.3,211.5 331.6,211.8 C332.0,212.0 332.3,212.3 332.5,212.6 C332.8,212.9 333.0,213.3 333.2,213.7 C333.4,214.1 333.5,214.5 333.6,214.9 C333.7,215.4 333.8,215.8 333.9,216.3 C334.1,216.7 334.2,217.2 334.3,217.6 C334.5,218.0 334.7,218.4 334.9,218.7 C335.1,219.1 335.4,219.4 335.7,219.6 C336.0,219.9 336.4,220.2 336.8,220.4 C337.2,220.6 337.8,220.9 338.0,221.0" stroke="#c8c8c8" stroke-width="0.8" fill="none" stroke-linecap="round"/><path d="M325.5,205.5 C325.4,205.7 325.2,206.2 325.1,206.6 C325.0,206.9 324.9,207.3 324.9,207.6 C324.9,207.9 324.9,208.2 325.0,208.6 C325.1,208.9 325.2,209.2 325.4,209.5 C325.6,209.8 325.9,210.1 326.1,210.4 C326.3,210.7 326.6,211.0 326.8,211.3 C327.0,211.5 327.3,211.8 327.4,212.1 C327.6,212.5 327.7,212.8 327.7,213.1 C327.8,213.4 327.8,213.7 327.7,214.1 C327.7,214.4 327.6,214.8 327.4,215.1 C327.3,215.5 327.2,215.8 327.0,216.2 C326.9,216.5 326.8,216.9 326.7,217.2 C326.6,217.6 326.5,217.9 326.6,218.2 C326.6,218.6 326.7,218.9 326.8,219.2 C326.9,219.5 327.1,219.8 327.3,220.1 C327.5,220.4 327.9,220.9 328.0,221.0" stroke="#c8c8c8" stroke-width="0.8" fill="none" stroke-linecap="round"/><path d="M325.5,205.5 C325.4,205.6 324.9,205.8 324.7,206.0 C324.4,206.2 324.2,206.3 324.0,206.5 C323.8,206.7 323.7,207.0 323.6,207.2 C323.5,207.5 323.5,207.8 323.5,208.1 C323.5,208.4 323.6,208.7 323.6,209.0 C323.7,209.3 323.7,209.7 323.8,210.0 C323.8,210.3 323.9,210.6 323.8,210.9 C323.8,211.2 323.8,211.4 323.7,211.7 C323.5,211.9 323.4,212.1 323.2,212.3 C322.9,212.5 322.7,212.7 322.4,212.9 C322.1,213.0 321.8,213.2 321.5,213.3 C321.3,213.5 321.0,213.6 320.7,213.8 C320.5,214.0 320.3,214.2 320.1,214.4 C320.0,214.6 319.9,214.9 319.9,215.2 C319.8,215.4 319.8,215.7 319.8,216.0 C319.9,216.3 320.0,216.8 320.0,217.0" stroke="#c8c8c8" stroke-width="0.8" fill="none" stroke-linecap="round"/><path d="M325.5,205.5 C325.3,205.5 324.6,205.5 324.2,205.5 C323.7,205.6 323.3,205.6 322.9,205.7 C322.5,205.8 322.1,206.0 321.8,206.2 C321.4,206.4 321.1,206.7 320.8,207.0 C320.5,207.3 320.2,207.6 319.9,208.0 C319.7,208.3 319.4,208.7 319.1,209.0 C318.8,209.4 318.5,209.7 318.2,210.0 C317.9,210.2 317.6,210.5 317.2,210.6 C316.8,210.8 316.4,210.9 316.0,211.0 C315.6,211.1 315.2,211.1 314.7,211.2 C314.3,211.2 313.8,211.2 313.4,211.2 C312.9,211.2 312.5,211.2 312.1,211.2 C311.6,211.3 311.2,211.4 310.9,211.5 C310.5,211.7 310.1,211.9 309.8,212.1 C309.5,212.3 309.1,212.7 308.9,213.0 C308.6,213.3 308.1,213.8 308.0,214.0" stroke="#c8c8c8" stroke-width="0.8" fill="none" stroke-linecap="round"/>
<line x1="318" y1="204" x2="333" y2="207" stroke="#8e8e8e" stroke-width="7.8" stroke-linecap="round"/><line x1="318" y1="204" x2="333" y2="207" stroke="#9a9a9a" stroke-width="7" stroke-linecap="round"/>
<path d="M159.6,252.9 C163.3,256.5 174.7,268.1 182.0,274.3 C189.3,280.6 196.4,285.9 203.6,290.4 C210.8,294.8 217.9,299.1 225.0,301.0 C232.1,302.9 240.3,303.0 246.4,302.1 C252.5,301.2 257.1,299.3 261.4,295.7 C265.7,292.1 269.4,286.8 272.1,280.7 C274.8,274.6 276.4,268.4 277.5,259.3 C278.6,250.2 278.4,231.6 278.6,226.0" stroke="url(#arrowg)" stroke-width="5.4" fill="none"/>
<path d="M278.6,214.7 L289,225.5 L268.5,225.5 Z" fill="#6b6b6b"/>
<line x1="380.7" y1="252.1" x2="323" y2="302" stroke="url(#blk1)" stroke-width="1.4"/>
<path d="M321.1,304 L323.5,296.8 L329.6,302.6 Z" fill="#222"/>
<line x1="381.4" y1="294.3" x2="341" y2="327.6" stroke="url(#blk2)" stroke-width="1.4"/>
<path d="M339.3,329.3 L341.3,322.6 L347.6,327.8 Z" fill="#222"/>
<text x="63.77" y="143" font-size="20.3" fill="#151515" stroke="#151515" stroke-width="0.3" textLength="116.53" lengthAdjust="spacingAndGlyphs">Live bacteria</text>
<text x="220.49" y="81" font-size="20.3" fill="#151515" stroke="#151515" stroke-width="0.3" textLength="126.89" lengthAdjust="spacingAndGlyphs">Dead bacteria</text>
<text x="411.9" y="227.9" font-size="24" fill="#151515" stroke="#151515" stroke-width="0.3" textLength="68.34" lengthAdjust="spacingAndGlyphs">AgNW</text>
<text x="394.47" y="255.6" font-size="24" fill="#151515" stroke="#151515" stroke-width="0.3" textLength="101.89" lengthAdjust="spacingAndGlyphs">electrode</text>
<text x="387.38" y="295.6" font-size="23.5" fill="#151515" stroke="#151515" stroke-width="0.3" textLength="115.69" lengthAdjust="spacingAndGlyphs">SF sponge</text>
<text x="27.42" y="491.5" font-size="21" fill="#151515" stroke="#151515" stroke-width="0.3" textLength="114.32" lengthAdjust="spacingAndGlyphs">Hemostasis</text>
<text x="520.8" y="92" font-size="16.5" fill="#151515" stroke="#151515" stroke-width="0.3" textLength="126.19" lengthAdjust="spacingAndGlyphs">Bleeding sensing</text>
</svg>
</body></html>
